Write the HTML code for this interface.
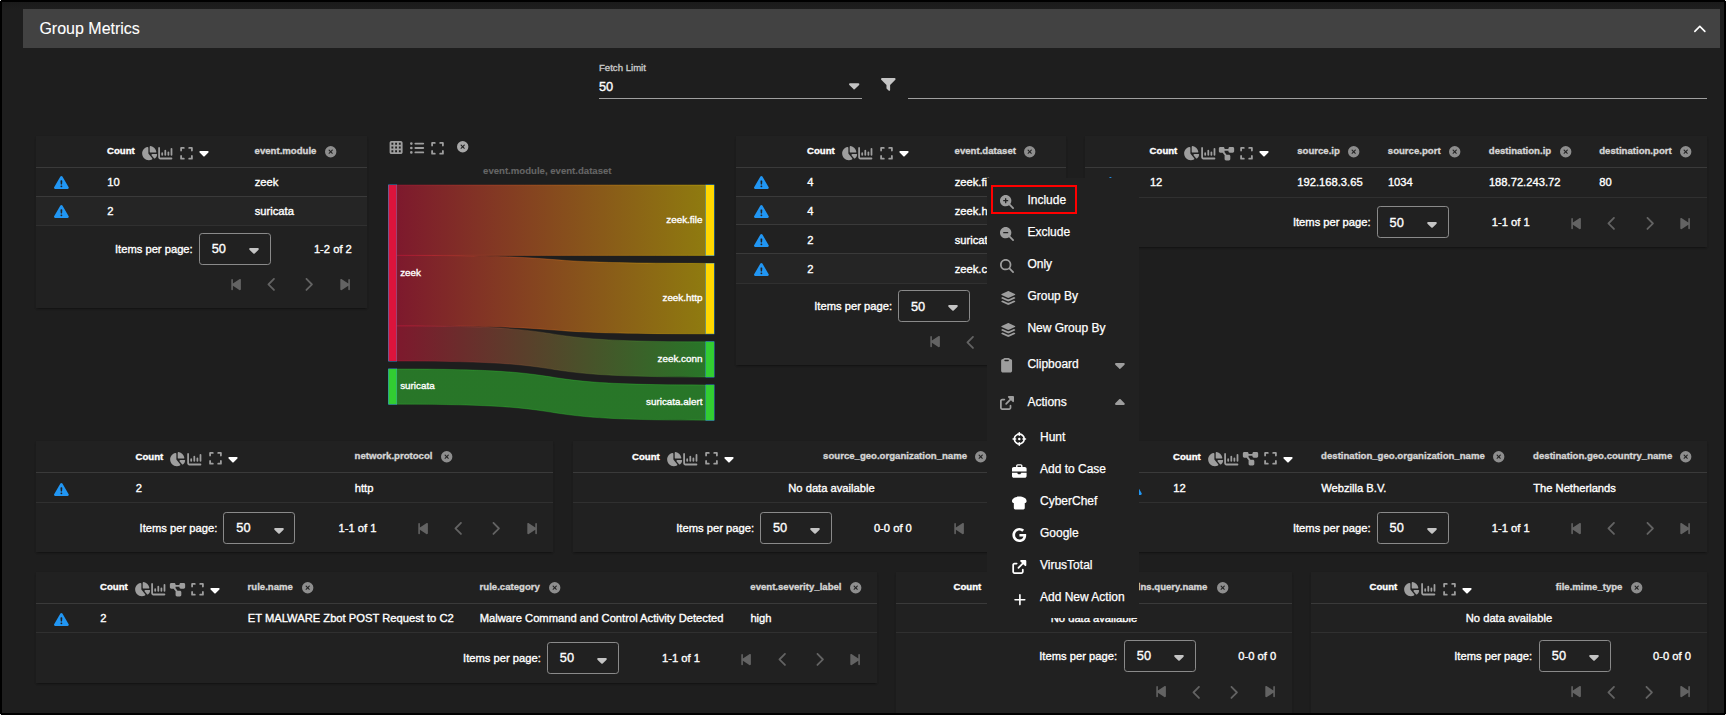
<!DOCTYPE html>
<html lang="en"><head><meta charset="utf-8"><title>Group Metrics</title>
<style>
*{box-sizing:border-box}
html,body{margin:0;padding:0}
body{width:1726px;height:715px;background:#000;overflow:hidden;position:relative;font-family:"Liberation Sans",sans-serif;color:#fff}
#pg{position:absolute;left:2px;top:2px;width:1722px;height:711px;background:linear-gradient(#1a1a1a,#1e1e1e 7px,#1e1e1e)}
.px{position:absolute;width:1px;height:1px;background:#ddd}
.bk{position:absolute;background:#000}
.i{position:absolute;display:block;overflow:visible}
.t{position:absolute;white-space:nowrap;-webkit-text-stroke:0.35px currentColor}
.card{position:absolute;background:#212121;box-shadow:0 2.4px .8px -1.6px rgba(0,0,0,.2),0 1.6px 1.6px 0 rgba(0,0,0,.14),0 .8px 3px 0 rgba(0,0,0,.07)}
.ln{position:absolute;height:1px;background:#3a3a3a}
.lf{background:#303030}
.st{position:absolute;background:#252525}
.bar{position:absolute;left:23px;top:9px;width:1697px;height:39px;background:#424242}
.title{font-size:16px;-webkit-text-stroke:0.1px currentColor}
.lbl{font-size:9.6px;color:#c8c8c8}
.sv{font-size:12.8px}
.ul{position:absolute;top:97.6px;height:1px;background:#a0a0a0}
.th{font-size:9.6px;font-weight:700;color:#d4d4d4}
.th.on{color:#fff}
.td{font-size:11.2px}
.ft{font-size:11.2px}
.sel{position:absolute;width:72px;height:32px;border:1px solid #8a8a8a;border-radius:3.2px}
.cl{font-size:9.85px}
.ct{font-size:9.6px;color:#666;font-weight:700;-webkit-text-stroke:0.1px currentColor}
.menu{position:absolute;left:987px;top:178px;width:152px;height:440.4px;background:#212121}
.hl{position:absolute;left:991px;top:185px;width:86px;height:29px;border:2px solid #f00}
.mi{font-size:12px;-webkit-text-stroke:0.25px currentColor}
</style></head>
<body>
<div id="pg"></div>
<div class="px" style="left:0;top:0"></div><div class="px" style="right:0;top:0"></div><div class="px" style="left:0;bottom:0"></div><div class="px" style="right:0;bottom:0"></div>
<div class="bar"></div>
<div class="t title" style="left:39.40px;top:18.60px;line-height:20px;">Group Metrics</div>
<svg class="i" style="left:1694.30px;top:25.20px;width:11.70px;height:7.60px;fill:#fff;" viewBox="-0.08 96.03 448.15 256.05" preserveAspectRatio="xMidYMid meet"><path d="M201.4 105.4c12.5-12.5 32.8-12.5 45.3 0l192 192c12.5 12.5 12.5 32.8 0 45.3s-32.8 12.5-45.3 0L224 173.3 54.6 342.6c-12.5 12.5-32.8 12.5-45.3 0s-12.5-32.8 0-45.3l192-192z"/></svg>
<div class="t lbl" style="left:599.00px;top:60.00px;line-height:16px;">Fetch Limit</div>
<div class="t sv" style="left:599.00px;top:78.90px;line-height:16px;">50</div>
<div class="ul" style="left:599px;width:263px"></div>
<svg class="i" style="left:849.00px;top:82.50px;width:10.40px;height:6.60px;fill:#c4c4c4;" viewBox="0.45 192 320.03 191.95" preserveAspectRatio="xMidYMid meet"><path d="M140.3 376.8c12.6 10.2 31.1 9.5 42.8-2.2l128-128c9.2-9.2 11.9-22.9 6.9-34.9S301.4 192 288.5 192h-256c-12.9 0-24.6 7.8-29.6 19.8s-2.2 25.7 7 34.8l128 128z"/></svg>
<svg class="i" style="left:880.60px;top:78.20px;width:14.60px;height:13.00px;fill:#c4c4c4;" viewBox="-0.05 64 512.03 447.98" preserveAspectRatio="xMidYMid meet"><path d="M32 64C19.1 64 7.4 71.8 2.4 83.8s-2.2 25.7 7 34.8L192 301.3V416c0 8.5 3.4 16.6 9.4 22.6l64 64c9.2 9.2 22.9 11.9 34.9 6.9S320 492.9 320 480V301.3l182.6-182.6c9.2-9.2 11.9-22.9 6.9-34.9S492.9 64 480 64z"/></svg>
<div class="ul" style="left:908px;width:799px"></div>
<div class="card" style="left:36px;top:136.3px;width:331px;height:172px"></div><div class="t th on" style="left:107.00px;top:142.90px;line-height:16px;">Count</div><svg class="i" style="left:141.60px;top:146.00px;width:15.30px;height:14.20px;fill:#9e9e9e;" viewBox="32.4 1.86 539.5 510.14" preserveAspectRatio="xMidYMid meet"><path d="M512.4 240h-176c-17.7 0-32-14.3-32-32V32c0-17.7 14.4-32.2 31.9-29.9 107 14.2 191.8 99 206 206 2.3 17.5-12.2 31.9-29.9 31.9M222.6 37.2c18.1-3.8 33.8 11 33.8 29.5V264c0 5.6 2 11 5.5 15.3L394 438.7c11.7 14.1 9.2 35.4-6.9 44.1C353 501.4 313.9 512 272.4 512c-132.5 0-240-107.5-240-240 0-115.5 81.5-211.9 190.2-234.8M477.8 288h64c18.5 0 33.3 15.7 29.5 33.8-10.2 48.4-35 91.4-69.6 124.2-12.3 11.7-31.6 9.2-42.4-3.9l-84.4-101.7c-17.3-20.9-2.4-52.4 24.6-52.4h78.2z"/></svg><svg class="i" style="left:158.40px;top:147.00px;width:14.60px;height:12.40px;fill:#9e9e9e;" viewBox="0 32 512 448" preserveAspectRatio="xMidYMid meet"><path d="M32 32c17.7 0 32 14.3 32 32v336c0 8.8 7.2 16 16 16h400c17.7 0 32 14.3 32 32s-14.3 32-32 32H80c-44.2 0-80-35.8-80-80V64c0-17.7 14.3-32 32-32m112 192c17.7 0 32 14.3 32 32v64c0 17.7-14.3 32-32 32s-32-14.3-32-32v-64c0-17.7 14.3-32 32-32m144-64v160c0 17.7-14.3 32-32 32s-32-14.3-32-32V160c0-17.7 14.3-32 32-32s32 14.3 32 32m80 32c17.7 0 32 14.3 32 32v96c0 17.7-14.3 32-32 32s-32-14.3-32-32v-96c0-17.7 14.3-32 32-32m144-96v224c0 17.7-14.3 32-32 32s-32-14.3-32-32V96c0-17.7 14.3-32 32-32s32 14.3 32 32"/></svg><svg class="i" style="left:180.20px;top:146.60px;width:13.00px;height:12.60px;fill:#9e9e9e;" viewBox="0 32 448 448" preserveAspectRatio="xMidYMid meet"><path d="M32 32C14.3 32 0 46.3 0 64v96c0 17.7 14.3 32 32 32s32-14.3 32-32V96h64c17.7 0 32-14.3 32-32s-14.3-32-32-32zm32 320c0-17.7-14.3-32-32-32S0 334.3 0 352v96c0 17.7 14.3 32 32 32h96c17.7 0 32-14.3 32-32s-14.3-32-32-32H64zM320 32c-17.7 0-32 14.3-32 32s14.3 32 32 32h64v64c0 17.7 14.3 32 32 32s32-14.3 32-32V64c0-17.7-14.3-32-32-32zm128 320c0-17.7-14.3-32-32-32s-32 14.3-32 32v64h-64c-17.7 0-32 14.3-32 32s14.3 32 32 32h96c17.7 0 32-14.3 32-32z"/></svg><svg class="i" style="left:199.40px;top:151.30px;width:10.00px;height:5.60px;fill:#fff;" viewBox="0.45 192 320.03 191.95" preserveAspectRatio="xMidYMid meet"><path d="M140.3 376.8c12.6 10.2 31.1 9.5 42.8-2.2l128-128c9.2-9.2 11.9-22.9 6.9-34.9S301.4 192 288.5 192h-256c-12.9 0-24.6 7.8-29.6 19.8s-2.2 25.7 7 34.8l128 128z"/></svg><div class="t th" style="left:254.60px;top:142.50px;line-height:16px;">event.module</div><div class="ln" style="left:36px;top:166.80px;width:331px"></div><svg class="i" style="left:53.85px;top:176.20px;width:14.80px;height:12.90px;fill:#2196f3;" viewBox="-0.02 0 512.04 480" preserveAspectRatio="none"><path d="M256 0c14.7 0 28.2 8.1 35.2 21l216 400c6.7 12.4 6.4 27.4-.8 39.5S486.1 480 472 480H40c-14.1 0-27.2-7.4-34.4-19.5s-7.5-27.1-.8-39.5l216-400c7-12.9 20.5-21 35.2-21m0 352a32 32 0 1 0 0 64 32 32 0 1 0 0-64m0-192c-18.2 0-32.7 15.5-31.4 33.7l7.4 104c.9 12.5 11.4 22.3 23.9 22.3 12.6 0 23-9.7 23.9-22.3l7.4-104c1.3-18.2-13.1-33.7-31.4-33.7z"/></svg><div class="t td" style="left:107.30px;top:174.10px;line-height:16px;">10</div><div class="t td" style="left:254.70px;top:174.10px;line-height:16px;">zeek</div><div class="ln" style="left:36px;top:195.60px;width:331px"></div><div class="st" style="left:36px;top:196.60px;width:331px;height:28.80px"></div><svg class="i" style="left:53.85px;top:205.00px;width:14.80px;height:12.90px;fill:#2196f3;" viewBox="-0.02 0 512.04 480" preserveAspectRatio="none"><path d="M256 0c14.7 0 28.2 8.1 35.2 21l216 400c6.7 12.4 6.4 27.4-.8 39.5S486.1 480 472 480H40c-14.1 0-27.2-7.4-34.4-19.5s-7.5-27.1-.8-39.5l216-400c7-12.9 20.5-21 35.2-21m0 352a32 32 0 1 0 0 64 32 32 0 1 0 0-64m0-192c-18.2 0-32.7 15.5-31.4 33.7l7.4 104c.9 12.5 11.4 22.3 23.9 22.3 12.6 0 23-9.7 23.9-22.3l7.4-104c1.3-18.2-13.1-33.7-31.4-33.7z"/></svg><div class="t td" style="left:107.30px;top:202.90px;line-height:16px;">2</div><div class="t td" style="left:254.70px;top:202.90px;line-height:16px;">suricata</div><div class="ln lf" style="left:36px;top:225.40px;width:331px"></div><div class="t ft" style="right:1533.30px;top:241.30px;line-height:16px;">Items per page:</div><div class="sel" style="left:199px;top:233px"></div><div class="t sv" style="left:211.70px;top:240.80px;line-height:16px;">50</div><svg class="i" style="left:249.10px;top:247.80px;width:10.00px;height:5.80px;fill:#c4c4c4;" viewBox="0.45 192 320.03 191.95" preserveAspectRatio="xMidYMid meet"><path d="M140.3 376.8c12.6 10.2 31.1 9.5 42.8-2.2l128-128c9.2-9.2 11.9-22.9 6.9-34.9S301.4 192 288.5 192h-256c-12.9 0-24.6 7.8-29.6 19.8s-2.2 25.7 7 34.8l128 128z"/></svg><div class="t ft" style="left:313.90px;top:241.30px;line-height:16px;">1-2 of 2</div><svg class="i" style="left:230.60px;top:278.70px;width:10.20px;height:11.20px;fill:#636363;" viewBox="0 32.0 384 448.1" preserveAspectRatio="xMidYMid meet"><path d="M363 36.8c-12.9-7-28.7-6.3-41 1.8L64 208.1V64c0-17.7-14.3-32-32-32S0 46.3 0 64v384c0 17.7 14.3 32 32 32s32-14.3 32-32V303.9l258 169.6c12.3 8.1 28 8.8 41 1.8s21-20.5 21-35.2v-368c0-14.7-8.1-28.2-21-35.2z"/></svg><svg class="i" style="left:267.10px;top:277.90px;width:8.40px;height:12.90px;fill:#636363;" viewBox="0.02 31.92 256.05 448.15" preserveAspectRatio="xMidYMid meet"><path d="M9.4 233.4c-12.5 12.5-12.5 32.8 0 45.3l192 192c12.5 12.5 32.8 12.5 45.3 0s12.5-32.8 0-45.3L77.3 256 246.6 86.6c12.5-12.5 12.5-32.8 0-45.3s-32.8-12.5-45.3 0l-192 192z"/></svg><svg class="i" style="left:305.30px;top:277.90px;width:8.40px;height:12.90px;fill:#636363;" viewBox="64.43 31.92 256.05 448.15" preserveAspectRatio="xMidYMid meet"><path d="M311.1 233.4c12.5 12.5 12.5 32.8 0 45.3l-192 192c-12.5 12.5-32.8 12.5-45.3 0s-12.5-32.8 0-45.3L243.2 256 73.9 86.6c-12.5-12.5-12.5-32.8 0-45.3s32.8-12.5 45.3 0l192 192z"/></svg><svg class="i" style="left:339.70px;top:278.70px;width:10.20px;height:11.20px;fill:#636363;" viewBox="0 32.0 384 448.1" preserveAspectRatio="xMidYMid meet"><path d="M21 36.8c12.9-7 28.7-6.3 41 1.8l258 169.5V64c0-17.7 14.3-32 32-32s32 14.3 32 32v384c0 17.7-14.3 32-32 32s-32-14.3-32-32V303.9L62 473.5c-12.3 8.1-28 8.8-41 1.8S0 454.7 0 440V72c0-14.7 8.1-28.2 21-35.2"/></svg>
<div class="card" style="left:736px;top:136.3px;width:330px;height:228.5px"></div><div class="t th on" style="left:807.00px;top:142.90px;line-height:16px;">Count</div><svg class="i" style="left:841.60px;top:146.00px;width:15.30px;height:14.20px;fill:#9e9e9e;" viewBox="32.4 1.86 539.5 510.14" preserveAspectRatio="xMidYMid meet"><path d="M512.4 240h-176c-17.7 0-32-14.3-32-32V32c0-17.7 14.4-32.2 31.9-29.9 107 14.2 191.8 99 206 206 2.3 17.5-12.2 31.9-29.9 31.9M222.6 37.2c18.1-3.8 33.8 11 33.8 29.5V264c0 5.6 2 11 5.5 15.3L394 438.7c11.7 14.1 9.2 35.4-6.9 44.1C353 501.4 313.9 512 272.4 512c-132.5 0-240-107.5-240-240 0-115.5 81.5-211.9 190.2-234.8M477.8 288h64c18.5 0 33.3 15.7 29.5 33.8-10.2 48.4-35 91.4-69.6 124.2-12.3 11.7-31.6 9.2-42.4-3.9l-84.4-101.7c-17.3-20.9-2.4-52.4 24.6-52.4h78.2z"/></svg><svg class="i" style="left:858.40px;top:147.00px;width:14.60px;height:12.40px;fill:#9e9e9e;" viewBox="0 32 512 448" preserveAspectRatio="xMidYMid meet"><path d="M32 32c17.7 0 32 14.3 32 32v336c0 8.8 7.2 16 16 16h400c17.7 0 32 14.3 32 32s-14.3 32-32 32H80c-44.2 0-80-35.8-80-80V64c0-17.7 14.3-32 32-32m112 192c17.7 0 32 14.3 32 32v64c0 17.7-14.3 32-32 32s-32-14.3-32-32v-64c0-17.7 14.3-32 32-32m144-64v160c0 17.7-14.3 32-32 32s-32-14.3-32-32V160c0-17.7 14.3-32 32-32s32 14.3 32 32m80 32c17.7 0 32 14.3 32 32v96c0 17.7-14.3 32-32 32s-32-14.3-32-32v-96c0-17.7 14.3-32 32-32m144-96v224c0 17.7-14.3 32-32 32s-32-14.3-32-32V96c0-17.7 14.3-32 32-32s32 14.3 32 32"/></svg><svg class="i" style="left:880.20px;top:146.60px;width:13.00px;height:12.60px;fill:#9e9e9e;" viewBox="0 32 448 448" preserveAspectRatio="xMidYMid meet"><path d="M32 32C14.3 32 0 46.3 0 64v96c0 17.7 14.3 32 32 32s32-14.3 32-32V96h64c17.7 0 32-14.3 32-32s-14.3-32-32-32zm32 320c0-17.7-14.3-32-32-32S0 334.3 0 352v96c0 17.7 14.3 32 32 32h96c17.7 0 32-14.3 32-32s-14.3-32-32-32H64zM320 32c-17.7 0-32 14.3-32 32s14.3 32 32 32h64v64c0 17.7 14.3 32 32 32s32-14.3 32-32V64c0-17.7-14.3-32-32-32zm128 320c0-17.7-14.3-32-32-32s-32 14.3-32 32v64h-64c-17.7 0-32 14.3-32 32s14.3 32 32 32h96c17.7 0 32-14.3 32-32z"/></svg><svg class="i" style="left:899.40px;top:151.30px;width:10.00px;height:5.60px;fill:#fff;" viewBox="0.45 192 320.03 191.95" preserveAspectRatio="xMidYMid meet"><path d="M140.3 376.8c12.6 10.2 31.1 9.5 42.8-2.2l128-128c9.2-9.2 11.9-22.9 6.9-34.9S301.4 192 288.5 192h-256c-12.9 0-24.6 7.8-29.6 19.8s-2.2 25.7 7 34.8l128 128z"/></svg><div class="t th" style="left:954.60px;top:142.50px;line-height:16px;">event.dataset</div><div class="ln" style="left:736px;top:166.80px;width:330px"></div><svg class="i" style="left:753.85px;top:176.20px;width:14.80px;height:12.90px;fill:#2196f3;" viewBox="-0.02 0 512.04 480" preserveAspectRatio="none"><path d="M256 0c14.7 0 28.2 8.1 35.2 21l216 400c6.7 12.4 6.4 27.4-.8 39.5S486.1 480 472 480H40c-14.1 0-27.2-7.4-34.4-19.5s-7.5-27.1-.8-39.5l216-400c7-12.9 20.5-21 35.2-21m0 352a32 32 0 1 0 0 64 32 32 0 1 0 0-64m0-192c-18.2 0-32.7 15.5-31.4 33.7l7.4 104c.9 12.5 11.4 22.3 23.9 22.3 12.6 0 23-9.7 23.9-22.3l7.4-104c1.3-18.2-13.1-33.7-31.4-33.7z"/></svg><div class="t td" style="left:807.30px;top:174.10px;line-height:16px;">4</div><div class="t td" style="left:954.70px;top:174.10px;line-height:16px;">zeek.file</div><div class="ln" style="left:736px;top:195.60px;width:330px"></div><div class="st" style="left:736px;top:196.60px;width:330px;height:27.80px"></div><svg class="i" style="left:753.85px;top:205.00px;width:14.80px;height:12.90px;fill:#2196f3;" viewBox="-0.02 0 512.04 480" preserveAspectRatio="none"><path d="M256 0c14.7 0 28.2 8.1 35.2 21l216 400c6.7 12.4 6.4 27.4-.8 39.5S486.1 480 472 480H40c-14.1 0-27.2-7.4-34.4-19.5s-7.5-27.1-.8-39.5l216-400c7-12.9 20.5-21 35.2-21m0 352a32 32 0 1 0 0 64 32 32 0 1 0 0-64m0-192c-18.2 0-32.7 15.5-31.4 33.7l7.4 104c.9 12.5 11.4 22.3 23.9 22.3 12.6 0 23-9.7 23.9-22.3l7.4-104c1.3-18.2-13.1-33.7-31.4-33.7z"/></svg><div class="t td" style="left:807.30px;top:202.90px;line-height:16px;">4</div><div class="t td" style="left:954.70px;top:202.90px;line-height:16px;">zeek.http</div><div class="ln" style="left:736px;top:224.40px;width:330px"></div><svg class="i" style="left:753.85px;top:233.80px;width:14.80px;height:12.90px;fill:#2196f3;" viewBox="-0.02 0 512.04 480" preserveAspectRatio="none"><path d="M256 0c14.7 0 28.2 8.1 35.2 21l216 400c6.7 12.4 6.4 27.4-.8 39.5S486.1 480 472 480H40c-14.1 0-27.2-7.4-34.4-19.5s-7.5-27.1-.8-39.5l216-400c7-12.9 20.5-21 35.2-21m0 352a32 32 0 1 0 0 64 32 32 0 1 0 0-64m0-192c-18.2 0-32.7 15.5-31.4 33.7l7.4 104c.9 12.5 11.4 22.3 23.9 22.3 12.6 0 23-9.7 23.9-22.3l7.4-104c1.3-18.2-13.1-33.7-31.4-33.7z"/></svg><div class="t td" style="left:807.30px;top:231.70px;line-height:16px;">2</div><div class="t td" style="left:954.70px;top:231.70px;line-height:16px;">suricata.alert</div><div class="ln" style="left:736px;top:253.20px;width:330px"></div><div class="st" style="left:736px;top:254.20px;width:330px;height:28.80px"></div><svg class="i" style="left:753.85px;top:262.60px;width:14.80px;height:12.90px;fill:#2196f3;" viewBox="-0.02 0 512.04 480" preserveAspectRatio="none"><path d="M256 0c14.7 0 28.2 8.1 35.2 21l216 400c6.7 12.4 6.4 27.4-.8 39.5S486.1 480 472 480H40c-14.1 0-27.2-7.4-34.4-19.5s-7.5-27.1-.8-39.5l216-400c7-12.9 20.5-21 35.2-21m0 352a32 32 0 1 0 0 64 32 32 0 1 0 0-64m0-192c-18.2 0-32.7 15.5-31.4 33.7l7.4 104c.9 12.5 11.4 22.3 23.9 22.3 12.6 0 23-9.7 23.9-22.3l7.4-104c1.3-18.2-13.1-33.7-31.4-33.7z"/></svg><div class="t td" style="left:807.30px;top:260.50px;line-height:16px;">2</div><div class="t td" style="left:954.70px;top:260.50px;line-height:16px;">zeek.conn</div><div class="ln lf" style="left:736px;top:283.00px;width:330px"></div><div class="t ft" style="right:834.00px;top:297.90px;line-height:16px;">Items per page:</div><div class="sel" style="left:898px;top:290px"></div><div class="t sv" style="left:911.00px;top:298.70px;line-height:16px;">50</div><svg class="i" style="left:948.40px;top:305.40px;width:10.00px;height:5.80px;fill:#c4c4c4;" viewBox="0.45 192 320.03 191.95" preserveAspectRatio="xMidYMid meet"><path d="M140.3 376.8c12.6 10.2 31.1 9.5 42.8-2.2l128-128c9.2-9.2 11.9-22.9 6.9-34.9S301.4 192 288.5 192h-256c-12.9 0-24.6 7.8-29.6 19.8s-2.2 25.7 7 34.8l128 128z"/></svg><div class="t ft" style="left:1013.20px;top:297.90px;line-height:16px;">1-4 of 4</div><svg class="i" style="left:929.90px;top:336.30px;width:10.20px;height:11.20px;fill:#636363;" viewBox="0 32.0 384 448.1" preserveAspectRatio="xMidYMid meet"><path d="M363 36.8c-12.9-7-28.7-6.3-41 1.8L64 208.1V64c0-17.7-14.3-32-32-32S0 46.3 0 64v384c0 17.7 14.3 32 32 32s32-14.3 32-32V303.9l258 169.6c12.3 8.1 28 8.8 41 1.8s21-20.5 21-35.2v-368c0-14.7-8.1-28.2-21-35.2z"/></svg><svg class="i" style="left:966.40px;top:335.50px;width:8.40px;height:12.90px;fill:#636363;" viewBox="0.02 31.92 256.05 448.15" preserveAspectRatio="xMidYMid meet"><path d="M9.4 233.4c-12.5 12.5-12.5 32.8 0 45.3l192 192c12.5 12.5 32.8 12.5 45.3 0s12.5-32.8 0-45.3L77.3 256 246.6 86.6c12.5-12.5 12.5-32.8 0-45.3s-32.8-12.5-45.3 0l-192 192z"/></svg><svg class="i" style="left:1004.60px;top:335.50px;width:8.40px;height:12.90px;fill:#636363;" viewBox="64.43 31.92 256.05 448.15" preserveAspectRatio="xMidYMid meet"><path d="M311.1 233.4c12.5 12.5 12.5 32.8 0 45.3l-192 192c-12.5 12.5-32.8 12.5-45.3 0s-12.5-32.8 0-45.3L243.2 256 73.9 86.6c-12.5-12.5-12.5-32.8 0-45.3s32.8-12.5 45.3 0l192 192z"/></svg><svg class="i" style="left:1039.00px;top:336.30px;width:10.20px;height:11.20px;fill:#636363;" viewBox="0 32.0 384 448.1" preserveAspectRatio="xMidYMid meet"><path d="M21 36.8c12.9-7 28.7-6.3 41 1.8l258 169.5V64c0-17.7 14.3-32 32-32s32 14.3 32 32v384c0 17.7-14.3 32-32 32s-32-14.3-32-32V303.9L62 473.5c-12.3 8.1-28 8.8-41 1.8S0 454.7 0 440V72c0-14.7 8.1-28.2 21-35.2"/></svg>
<div class="card" style="left:1085px;top:136.3px;width:622px;height:111px"></div><div class="t th on" style="left:1149.60px;top:142.90px;line-height:16px;">Count</div><svg class="i" style="left:1184.20px;top:146.00px;width:15.30px;height:14.20px;fill:#9e9e9e;" viewBox="32.4 1.86 539.5 510.14" preserveAspectRatio="xMidYMid meet"><path d="M512.4 240h-176c-17.7 0-32-14.3-32-32V32c0-17.7 14.4-32.2 31.9-29.9 107 14.2 191.8 99 206 206 2.3 17.5-12.2 31.9-29.9 31.9M222.6 37.2c18.1-3.8 33.8 11 33.8 29.5V264c0 5.6 2 11 5.5 15.3L394 438.7c11.7 14.1 9.2 35.4-6.9 44.1C353 501.4 313.9 512 272.4 512c-132.5 0-240-107.5-240-240 0-115.5 81.5-211.9 190.2-234.8M477.8 288h64c18.5 0 33.3 15.7 29.5 33.8-10.2 48.4-35 91.4-69.6 124.2-12.3 11.7-31.6 9.2-42.4-3.9l-84.4-101.7c-17.3-20.9-2.4-52.4 24.6-52.4h78.2z"/></svg><svg class="i" style="left:1201.00px;top:147.00px;width:14.60px;height:12.40px;fill:#9e9e9e;" viewBox="0 32 512 448" preserveAspectRatio="xMidYMid meet"><path d="M32 32c17.7 0 32 14.3 32 32v336c0 8.8 7.2 16 16 16h400c17.7 0 32 14.3 32 32s-14.3 32-32 32H80c-44.2 0-80-35.8-80-80V64c0-17.7 14.3-32 32-32m112 192c17.7 0 32 14.3 32 32v64c0 17.7-14.3 32-32 32s-32-14.3-32-32v-64c0-17.7 14.3-32 32-32m144-64v160c0 17.7-14.3 32-32 32s-32-14.3-32-32V160c0-17.7 14.3-32 32-32s32 14.3 32 32m80 32c17.7 0 32 14.3 32 32v96c0 17.7-14.3 32-32 32s-32-14.3-32-32v-96c0-17.7 14.3-32 32-32m144-96v224c0 17.7-14.3 32-32 32s-32-14.3-32-32V96c0-17.7 14.3-32 32-32s32 14.3 32 32"/></svg><svg class="i" style="left:1218.20px;top:146.50px;width:17.00px;height:13.40px;fill:#9e9e9e;" viewBox="0 32 512 448" preserveAspectRatio="xMidYMid meet"><path d="M0 80c0-26.5 21.5-48 48-48h96c26.5 0 48 21.5 48 48v16h128V80c0-26.5 21.5-48 48-48h96c26.5 0 48 21.5 48 48v96c0 26.5-21.5 48-48 48h-96c-26.5 0-48-21.5-48-48v-16H192v16c0 7.3-1.7 14.3-4.6 20.5L256 288h80c26.5 0 48 21.5 48 48v96c0 26.5-21.5 48-48 48h-96c-26.5 0-48-21.5-48-48v-96c0-7.3 1.7-14.3 4.6-20.5L128 224H48c-26.5 0-48-21.5-48-48z"/></svg><svg class="i" style="left:1240.20px;top:146.60px;width:13.00px;height:12.60px;fill:#9e9e9e;" viewBox="0 32 448 448" preserveAspectRatio="xMidYMid meet"><path d="M32 32C14.3 32 0 46.3 0 64v96c0 17.7 14.3 32 32 32s32-14.3 32-32V96h64c17.7 0 32-14.3 32-32s-14.3-32-32-32zm32 320c0-17.7-14.3-32-32-32S0 334.3 0 352v96c0 17.7 14.3 32 32 32h96c17.7 0 32-14.3 32-32s-14.3-32-32-32H64zM320 32c-17.7 0-32 14.3-32 32s14.3 32 32 32h64v64c0 17.7 14.3 32 32 32s32-14.3 32-32V64c0-17.7-14.3-32-32-32zm128 320c0-17.7-14.3-32-32-32s-32 14.3-32 32v64h-64c-17.7 0-32 14.3-32 32s14.3 32 32 32h96c17.7 0 32-14.3 32-32z"/></svg><svg class="i" style="left:1259.40px;top:151.30px;width:10.00px;height:5.60px;fill:#fff;" viewBox="0.45 192 320.03 191.95" preserveAspectRatio="xMidYMid meet"><path d="M140.3 376.8c12.6 10.2 31.1 9.5 42.8-2.2l128-128c9.2-9.2 11.9-22.9 6.9-34.9S301.4 192 288.5 192h-256c-12.9 0-24.6 7.8-29.6 19.8s-2.2 25.7 7 34.8l128 128z"/></svg><div class="t th" style="left:1297.20px;top:142.50px;line-height:16px;">source.ip</div><div class="t th" style="left:1387.80px;top:142.50px;line-height:16px;">source.port</div><div class="t th" style="left:1488.80px;top:142.50px;line-height:16px;">destination.ip</div><div class="t th" style="left:1599.20px;top:142.50px;line-height:16px;">destination.port</div><div class="ln" style="left:1085px;top:166.80px;width:622px"></div><svg class="i" style="left:1102.85px;top:177.20px;width:14.80px;height:12.90px;fill:#2196f3;" viewBox="-0.02 0 512.04 480" preserveAspectRatio="none"><path d="M256 0c14.7 0 28.2 8.1 35.2 21l216 400c6.7 12.4 6.4 27.4-.8 39.5S486.1 480 472 480H40c-14.1 0-27.2-7.4-34.4-19.5s-7.5-27.1-.8-39.5l216-400c7-12.9 20.5-21 35.2-21m0 352a32 32 0 1 0 0 64 32 32 0 1 0 0-64m0-192c-18.2 0-32.7 15.5-31.4 33.7l7.4 104c.9 12.5 11.4 22.3 23.9 22.3 12.6 0 23-9.7 23.9-22.3l7.4-104c1.3-18.2-13.1-33.7-31.4-33.7z"/></svg><div class="t td" style="left:1149.90px;top:174.10px;line-height:16px;">12</div><div class="t td" style="left:1297.30px;top:174.10px;line-height:16px;">192.168.3.65</div><div class="t td" style="left:1387.90px;top:174.10px;line-height:16px;">1034</div><div class="t td" style="left:1488.90px;top:174.10px;line-height:16px;">188.72.243.72</div><div class="t td" style="left:1599.30px;top:174.10px;line-height:16px;">80</div><div class="ln lf" style="left:1085px;top:196.60px;width:622px"></div><div class="t ft" style="right:355.40px;top:214.00px;line-height:16px;">Items per page:</div><div class="sel" style="left:1377px;top:206px"></div><div class="t sv" style="left:1389.60px;top:214.50px;line-height:16px;">50</div><svg class="i" style="left:1427.00px;top:222.40px;width:10.00px;height:5.80px;fill:#c4c4c4;" viewBox="0.45 192 320.03 191.95" preserveAspectRatio="xMidYMid meet"><path d="M140.3 376.8c12.6 10.2 31.1 9.5 42.8-2.2l128-128c9.2-9.2 11.9-22.9 6.9-34.9S301.4 192 288.5 192h-256c-12.9 0-24.6 7.8-29.6 19.8s-2.2 25.7 7 34.8l128 128z"/></svg><div class="t ft" style="left:1491.80px;top:214.00px;line-height:16px;">1-1 of 1</div><svg class="i" style="left:1570.90px;top:217.80px;width:10.20px;height:11.20px;fill:#636363;" viewBox="0 32.0 384 448.1" preserveAspectRatio="xMidYMid meet"><path d="M363 36.8c-12.9-7-28.7-6.3-41 1.8L64 208.1V64c0-17.7-14.3-32-32-32S0 46.3 0 64v384c0 17.7 14.3 32 32 32s32-14.3 32-32V303.9l258 169.6c12.3 8.1 28 8.8 41 1.8s21-20.5 21-35.2v-368c0-14.7-8.1-28.2-21-35.2z"/></svg><svg class="i" style="left:1607.40px;top:217.00px;width:8.40px;height:12.90px;fill:#636363;" viewBox="0.02 31.92 256.05 448.15" preserveAspectRatio="xMidYMid meet"><path d="M9.4 233.4c-12.5 12.5-12.5 32.8 0 45.3l192 192c12.5 12.5 32.8 12.5 45.3 0s12.5-32.8 0-45.3L77.3 256 246.6 86.6c12.5-12.5 12.5-32.8 0-45.3s-32.8-12.5-45.3 0l-192 192z"/></svg><svg class="i" style="left:1645.60px;top:217.00px;width:8.40px;height:12.90px;fill:#636363;" viewBox="64.43 31.92 256.05 448.15" preserveAspectRatio="xMidYMid meet"><path d="M311.1 233.4c12.5 12.5 12.5 32.8 0 45.3l-192 192c-12.5 12.5-32.8 12.5-45.3 0s-12.5-32.8 0-45.3L243.2 256 73.9 86.6c-12.5-12.5-12.5-32.8 0-45.3s32.8-12.5 45.3 0l192 192z"/></svg><svg class="i" style="left:1680.00px;top:217.80px;width:10.20px;height:11.20px;fill:#636363;" viewBox="0 32.0 384 448.1" preserveAspectRatio="xMidYMid meet"><path d="M21 36.8c12.9-7 28.7-6.3 41 1.8l258 169.5V64c0-17.7 14.3-32 32-32s32 14.3 32 32v384c0 17.7-14.3 32-32 32s-32-14.3-32-32V303.9L62 473.5c-12.3 8.1-28 8.8-41 1.8S0 454.7 0 440V72c0-14.7 8.1-28.2 21-35.2"/></svg>
<div class="card" style="left:36px;top:441.3px;width:517px;height:111px"></div><div class="t th on" style="left:135.50px;top:448.60px;line-height:16px;">Count</div><svg class="i" style="left:170.10px;top:451.70px;width:15.30px;height:14.20px;fill:#9e9e9e;" viewBox="32.4 1.86 539.5 510.14" preserveAspectRatio="xMidYMid meet"><path d="M512.4 240h-176c-17.7 0-32-14.3-32-32V32c0-17.7 14.4-32.2 31.9-29.9 107 14.2 191.8 99 206 206 2.3 17.5-12.2 31.9-29.9 31.9M222.6 37.2c18.1-3.8 33.8 11 33.8 29.5V264c0 5.6 2 11 5.5 15.3L394 438.7c11.7 14.1 9.2 35.4-6.9 44.1C353 501.4 313.9 512 272.4 512c-132.5 0-240-107.5-240-240 0-115.5 81.5-211.9 190.2-234.8M477.8 288h64c18.5 0 33.3 15.7 29.5 33.8-10.2 48.4-35 91.4-69.6 124.2-12.3 11.7-31.6 9.2-42.4-3.9l-84.4-101.7c-17.3-20.9-2.4-52.4 24.6-52.4h78.2z"/></svg><svg class="i" style="left:186.90px;top:452.70px;width:14.60px;height:12.40px;fill:#9e9e9e;" viewBox="0 32 512 448" preserveAspectRatio="xMidYMid meet"><path d="M32 32c17.7 0 32 14.3 32 32v336c0 8.8 7.2 16 16 16h400c17.7 0 32 14.3 32 32s-14.3 32-32 32H80c-44.2 0-80-35.8-80-80V64c0-17.7 14.3-32 32-32m112 192c17.7 0 32 14.3 32 32v64c0 17.7-14.3 32-32 32s-32-14.3-32-32v-64c0-17.7 14.3-32 32-32m144-64v160c0 17.7-14.3 32-32 32s-32-14.3-32-32V160c0-17.7 14.3-32 32-32s32 14.3 32 32m80 32c17.7 0 32 14.3 32 32v96c0 17.7-14.3 32-32 32s-32-14.3-32-32v-96c0-17.7 14.3-32 32-32m144-96v224c0 17.7-14.3 32-32 32s-32-14.3-32-32V96c0-17.7 14.3-32 32-32s32 14.3 32 32"/></svg><svg class="i" style="left:208.70px;top:452.30px;width:13.00px;height:12.60px;fill:#9e9e9e;" viewBox="0 32 448 448" preserveAspectRatio="xMidYMid meet"><path d="M32 32C14.3 32 0 46.3 0 64v96c0 17.7 14.3 32 32 32s32-14.3 32-32V96h64c17.7 0 32-14.3 32-32s-14.3-32-32-32zm32 320c0-17.7-14.3-32-32-32S0 334.3 0 352v96c0 17.7 14.3 32 32 32h96c17.7 0 32-14.3 32-32s-14.3-32-32-32H64zM320 32c-17.7 0-32 14.3-32 32s14.3 32 32 32h64v64c0 17.7 14.3 32 32 32s32-14.3 32-32V64c0-17.7-14.3-32-32-32zm128 320c0-17.7-14.3-32-32-32s-32 14.3-32 32v64h-64c-17.7 0-32 14.3-32 32s14.3 32 32 32h96c17.7 0 32-14.3 32-32z"/></svg><svg class="i" style="left:227.90px;top:457.00px;width:10.00px;height:5.60px;fill:#fff;" viewBox="0.45 192 320.03 191.95" preserveAspectRatio="xMidYMid meet"><path d="M140.3 376.8c12.6 10.2 31.1 9.5 42.8-2.2l128-128c9.2-9.2 11.9-22.9 6.9-34.9S301.4 192 288.5 192h-256c-12.9 0-24.6 7.8-29.6 19.8s-2.2 25.7 7 34.8l128 128z"/></svg><div class="t th" style="left:354.60px;top:448.20px;line-height:16px;">network.protocol</div><div class="ln" style="left:36px;top:471.80px;width:517px"></div><svg class="i" style="left:53.85px;top:482.60px;width:14.80px;height:12.90px;fill:#2196f3;" viewBox="-0.02 0 512.04 480" preserveAspectRatio="none"><path d="M256 0c14.7 0 28.2 8.1 35.2 21l216 400c6.7 12.4 6.4 27.4-.8 39.5S486.1 480 472 480H40c-14.1 0-27.2-7.4-34.4-19.5s-7.5-27.1-.8-39.5l216-400c7-12.9 20.5-21 35.2-21m0 352a32 32 0 1 0 0 64 32 32 0 1 0 0-64m0-192c-18.2 0-32.7 15.5-31.4 33.7l7.4 104c.9 12.5 11.4 22.3 23.9 22.3 12.6 0 23-9.7 23.9-22.3l7.4-104c1.3-18.2-13.1-33.7-31.4-33.7z"/></svg><div class="t td" style="left:135.80px;top:480.10px;line-height:16px;">2</div><div class="t td" style="left:354.70px;top:480.10px;line-height:16px;">http</div><div class="ln lf" style="left:36px;top:501.60px;width:517px"></div><div class="t ft" style="right:1508.70px;top:520.00px;line-height:16px;">Items per page:</div><div class="sel" style="left:223px;top:512px"></div><div class="t sv" style="left:236.30px;top:519.90px;line-height:16px;">50</div><svg class="i" style="left:273.70px;top:528.40px;width:10.00px;height:5.80px;fill:#c4c4c4;" viewBox="0.45 192 320.03 191.95" preserveAspectRatio="xMidYMid meet"><path d="M140.3 376.8c12.6 10.2 31.1 9.5 42.8-2.2l128-128c9.2-9.2 11.9-22.9 6.9-34.9S301.4 192 288.5 192h-256c-12.9 0-24.6 7.8-29.6 19.8s-2.2 25.7 7 34.8l128 128z"/></svg><div class="t ft" style="left:338.50px;top:520.00px;line-height:16px;">1-1 of 1</div><svg class="i" style="left:417.60px;top:522.80px;width:10.20px;height:11.20px;fill:#636363;" viewBox="0 32.0 384 448.1" preserveAspectRatio="xMidYMid meet"><path d="M363 36.8c-12.9-7-28.7-6.3-41 1.8L64 208.1V64c0-17.7-14.3-32-32-32S0 46.3 0 64v384c0 17.7 14.3 32 32 32s32-14.3 32-32V303.9l258 169.6c12.3 8.1 28 8.8 41 1.8s21-20.5 21-35.2v-368c0-14.7-8.1-28.2-21-35.2z"/></svg><svg class="i" style="left:454.10px;top:522.00px;width:8.40px;height:12.90px;fill:#636363;" viewBox="0.02 31.92 256.05 448.15" preserveAspectRatio="xMidYMid meet"><path d="M9.4 233.4c-12.5 12.5-12.5 32.8 0 45.3l192 192c12.5 12.5 32.8 12.5 45.3 0s12.5-32.8 0-45.3L77.3 256 246.6 86.6c12.5-12.5 12.5-32.8 0-45.3s-32.8-12.5-45.3 0l-192 192z"/></svg><svg class="i" style="left:492.30px;top:522.00px;width:8.40px;height:12.90px;fill:#636363;" viewBox="64.43 31.92 256.05 448.15" preserveAspectRatio="xMidYMid meet"><path d="M311.1 233.4c12.5 12.5 12.5 32.8 0 45.3l-192 192c-12.5 12.5-32.8 12.5-45.3 0s-12.5-32.8 0-45.3L243.2 256 73.9 86.6c-12.5-12.5-12.5-32.8 0-45.3s32.8-12.5 45.3 0l192 192z"/></svg><svg class="i" style="left:526.70px;top:522.80px;width:10.20px;height:11.20px;fill:#636363;" viewBox="0 32.0 384 448.1" preserveAspectRatio="xMidYMid meet"><path d="M21 36.8c12.9-7 28.7-6.3 41 1.8l258 169.5V64c0-17.7 14.3-32 32-32s32 14.3 32 32v384c0 17.7-14.3 32-32 32s-32-14.3-32-32V303.9L62 473.5c-12.3 8.1-28 8.8-41 1.8S0 454.7 0 440V72c0-14.7 8.1-28.2 21-35.2"/></svg>
<div class="card" style="left:573px;top:441.3px;width:517px;height:111px"></div><div class="t th on" style="left:632.00px;top:448.60px;line-height:16px;">Count</div><svg class="i" style="left:666.60px;top:451.70px;width:15.30px;height:14.20px;fill:#9e9e9e;" viewBox="32.4 1.86 539.5 510.14" preserveAspectRatio="xMidYMid meet"><path d="M512.4 240h-176c-17.7 0-32-14.3-32-32V32c0-17.7 14.4-32.2 31.9-29.9 107 14.2 191.8 99 206 206 2.3 17.5-12.2 31.9-29.9 31.9M222.6 37.2c18.1-3.8 33.8 11 33.8 29.5V264c0 5.6 2 11 5.5 15.3L394 438.7c11.7 14.1 9.2 35.4-6.9 44.1C353 501.4 313.9 512 272.4 512c-132.5 0-240-107.5-240-240 0-115.5 81.5-211.9 190.2-234.8M477.8 288h64c18.5 0 33.3 15.7 29.5 33.8-10.2 48.4-35 91.4-69.6 124.2-12.3 11.7-31.6 9.2-42.4-3.9l-84.4-101.7c-17.3-20.9-2.4-52.4 24.6-52.4h78.2z"/></svg><svg class="i" style="left:683.40px;top:452.70px;width:14.60px;height:12.40px;fill:#9e9e9e;" viewBox="0 32 512 448" preserveAspectRatio="xMidYMid meet"><path d="M32 32c17.7 0 32 14.3 32 32v336c0 8.8 7.2 16 16 16h400c17.7 0 32 14.3 32 32s-14.3 32-32 32H80c-44.2 0-80-35.8-80-80V64c0-17.7 14.3-32 32-32m112 192c17.7 0 32 14.3 32 32v64c0 17.7-14.3 32-32 32s-32-14.3-32-32v-64c0-17.7 14.3-32 32-32m144-64v160c0 17.7-14.3 32-32 32s-32-14.3-32-32V160c0-17.7 14.3-32 32-32s32 14.3 32 32m80 32c17.7 0 32 14.3 32 32v96c0 17.7-14.3 32-32 32s-32-14.3-32-32v-96c0-17.7 14.3-32 32-32m144-96v224c0 17.7-14.3 32-32 32s-32-14.3-32-32V96c0-17.7 14.3-32 32-32s32 14.3 32 32"/></svg><svg class="i" style="left:705.20px;top:452.30px;width:13.00px;height:12.60px;fill:#9e9e9e;" viewBox="0 32 448 448" preserveAspectRatio="xMidYMid meet"><path d="M32 32C14.3 32 0 46.3 0 64v96c0 17.7 14.3 32 32 32s32-14.3 32-32V96h64c17.7 0 32-14.3 32-32s-14.3-32-32-32zm32 320c0-17.7-14.3-32-32-32S0 334.3 0 352v96c0 17.7 14.3 32 32 32h96c17.7 0 32-14.3 32-32s-14.3-32-32-32H64zM320 32c-17.7 0-32 14.3-32 32s14.3 32 32 32h64v64c0 17.7 14.3 32 32 32s32-14.3 32-32V64c0-17.7-14.3-32-32-32zm128 320c0-17.7-14.3-32-32-32s-32 14.3-32 32v64h-64c-17.7 0-32 14.3-32 32s14.3 32 32 32h96c17.7 0 32-14.3 32-32z"/></svg><svg class="i" style="left:724.40px;top:457.00px;width:10.00px;height:5.60px;fill:#fff;" viewBox="0.45 192 320.03 191.95" preserveAspectRatio="xMidYMid meet"><path d="M140.3 376.8c12.6 10.2 31.1 9.5 42.8-2.2l128-128c9.2-9.2 11.9-22.9 6.9-34.9S301.4 192 288.5 192h-256c-12.9 0-24.6 7.8-29.6 19.8s-2.2 25.7 7 34.8l128 128z"/></svg><div class="t th" style="left:823.10px;top:448.20px;line-height:16px;">source_geo.organization_name</div><div class="ln" style="left:573px;top:471.80px;width:517px"></div><div class="t td" style="left:631.50px;width:400px;text-align:center;top:479.90px;line-height:16px;">No data available</div><div class="ln lf" style="left:573px;top:501.60px;width:517px"></div><div class="t ft" style="right:972.00px;top:520.00px;line-height:16px;">Items per page:</div><div class="sel" style="left:760px;top:512px"></div><div class="t sv" style="left:773.00px;top:519.90px;line-height:16px;">50</div><svg class="i" style="left:810.40px;top:528.40px;width:10.00px;height:5.80px;fill:#c4c4c4;" viewBox="0.45 192 320.03 191.95" preserveAspectRatio="xMidYMid meet"><path d="M140.3 376.8c12.6 10.2 31.1 9.5 42.8-2.2l128-128c9.2-9.2 11.9-22.9 6.9-34.9S301.4 192 288.5 192h-256c-12.9 0-24.6 7.8-29.6 19.8s-2.2 25.7 7 34.8l128 128z"/></svg><div class="t ft" style="left:873.90px;top:520.00px;line-height:16px;">0-0 of 0</div><svg class="i" style="left:954.30px;top:522.80px;width:10.20px;height:11.20px;fill:#636363;" viewBox="0 32.0 384 448.1" preserveAspectRatio="xMidYMid meet"><path d="M363 36.8c-12.9-7-28.7-6.3-41 1.8L64 208.1V64c0-17.7-14.3-32-32-32S0 46.3 0 64v384c0 17.7 14.3 32 32 32s32-14.3 32-32V303.9l258 169.6c12.3 8.1 28 8.8 41 1.8s21-20.5 21-35.2v-368c0-14.7-8.1-28.2-21-35.2z"/></svg><svg class="i" style="left:990.80px;top:522.00px;width:8.40px;height:12.90px;fill:#636363;" viewBox="0.02 31.92 256.05 448.15" preserveAspectRatio="xMidYMid meet"><path d="M9.4 233.4c-12.5 12.5-12.5 32.8 0 45.3l192 192c12.5 12.5 32.8 12.5 45.3 0s12.5-32.8 0-45.3L77.3 256 246.6 86.6c12.5-12.5 12.5-32.8 0-45.3s-32.8-12.5-45.3 0l-192 192z"/></svg><svg class="i" style="left:1029.00px;top:522.00px;width:8.40px;height:12.90px;fill:#636363;" viewBox="64.43 31.92 256.05 448.15" preserveAspectRatio="xMidYMid meet"><path d="M311.1 233.4c12.5 12.5 12.5 32.8 0 45.3l-192 192c-12.5 12.5-32.8 12.5-45.3 0s-12.5-32.8 0-45.3L243.2 256 73.9 86.6c-12.5-12.5-12.5-32.8 0-45.3s32.8-12.5 45.3 0l192 192z"/></svg><svg class="i" style="left:1063.40px;top:522.80px;width:10.20px;height:11.20px;fill:#636363;" viewBox="0 32.0 384 448.1" preserveAspectRatio="xMidYMid meet"><path d="M21 36.8c12.9-7 28.7-6.3 41 1.8l258 169.5V64c0-17.7 14.3-32 32-32s32 14.3 32 32v384c0 17.7-14.3 32-32 32s-32-14.3-32-32V303.9L62 473.5c-12.3 8.1-28 8.8-41 1.8S0 454.7 0 440V72c0-14.7 8.1-28.2 21-35.2"/></svg>
<div class="card" style="left:1110px;top:441.3px;width:597px;height:111px"></div><div class="t th on" style="left:1173.00px;top:448.60px;line-height:16px;">Count</div><svg class="i" style="left:1207.60px;top:451.70px;width:15.30px;height:14.20px;fill:#9e9e9e;" viewBox="32.4 1.86 539.5 510.14" preserveAspectRatio="xMidYMid meet"><path d="M512.4 240h-176c-17.7 0-32-14.3-32-32V32c0-17.7 14.4-32.2 31.9-29.9 107 14.2 191.8 99 206 206 2.3 17.5-12.2 31.9-29.9 31.9M222.6 37.2c18.1-3.8 33.8 11 33.8 29.5V264c0 5.6 2 11 5.5 15.3L394 438.7c11.7 14.1 9.2 35.4-6.9 44.1C353 501.4 313.9 512 272.4 512c-132.5 0-240-107.5-240-240 0-115.5 81.5-211.9 190.2-234.8M477.8 288h64c18.5 0 33.3 15.7 29.5 33.8-10.2 48.4-35 91.4-69.6 124.2-12.3 11.7-31.6 9.2-42.4-3.9l-84.4-101.7c-17.3-20.9-2.4-52.4 24.6-52.4h78.2z"/></svg><svg class="i" style="left:1224.40px;top:452.70px;width:14.60px;height:12.40px;fill:#9e9e9e;" viewBox="0 32 512 448" preserveAspectRatio="xMidYMid meet"><path d="M32 32c17.7 0 32 14.3 32 32v336c0 8.8 7.2 16 16 16h400c17.7 0 32 14.3 32 32s-14.3 32-32 32H80c-44.2 0-80-35.8-80-80V64c0-17.7 14.3-32 32-32m112 192c17.7 0 32 14.3 32 32v64c0 17.7-14.3 32-32 32s-32-14.3-32-32v-64c0-17.7 14.3-32 32-32m144-64v160c0 17.7-14.3 32-32 32s-32-14.3-32-32V160c0-17.7 14.3-32 32-32s32 14.3 32 32m80 32c17.7 0 32 14.3 32 32v96c0 17.7-14.3 32-32 32s-32-14.3-32-32v-96c0-17.7 14.3-32 32-32m144-96v224c0 17.7-14.3 32-32 32s-32-14.3-32-32V96c0-17.7 14.3-32 32-32s32 14.3 32 32"/></svg><svg class="i" style="left:1241.60px;top:452.20px;width:17.00px;height:13.40px;fill:#9e9e9e;" viewBox="0 32 512 448" preserveAspectRatio="xMidYMid meet"><path d="M0 80c0-26.5 21.5-48 48-48h96c26.5 0 48 21.5 48 48v16h128V80c0-26.5 21.5-48 48-48h96c26.5 0 48 21.5 48 48v96c0 26.5-21.5 48-48 48h-96c-26.5 0-48-21.5-48-48v-16H192v16c0 7.3-1.7 14.3-4.6 20.5L256 288h80c26.5 0 48 21.5 48 48v96c0 26.5-21.5 48-48 48h-96c-26.5 0-48-21.5-48-48v-96c0-7.3 1.7-14.3 4.6-20.5L128 224H48c-26.5 0-48-21.5-48-48z"/></svg><svg class="i" style="left:1263.60px;top:452.30px;width:13.00px;height:12.60px;fill:#9e9e9e;" viewBox="0 32 448 448" preserveAspectRatio="xMidYMid meet"><path d="M32 32C14.3 32 0 46.3 0 64v96c0 17.7 14.3 32 32 32s32-14.3 32-32V96h64c17.7 0 32-14.3 32-32s-14.3-32-32-32zm32 320c0-17.7-14.3-32-32-32S0 334.3 0 352v96c0 17.7 14.3 32 32 32h96c17.7 0 32-14.3 32-32s-14.3-32-32-32H64zM320 32c-17.7 0-32 14.3-32 32s14.3 32 32 32h64v64c0 17.7 14.3 32 32 32s32-14.3 32-32V64c0-17.7-14.3-32-32-32zm128 320c0-17.7-14.3-32-32-32s-32 14.3-32 32v64h-64c-17.7 0-32 14.3-32 32s14.3 32 32 32h96c17.7 0 32-14.3 32-32z"/></svg><svg class="i" style="left:1282.80px;top:457.00px;width:10.00px;height:5.60px;fill:#fff;" viewBox="0.45 192 320.03 191.95" preserveAspectRatio="xMidYMid meet"><path d="M140.3 376.8c12.6 10.2 31.1 9.5 42.8-2.2l128-128c9.2-9.2 11.9-22.9 6.9-34.9S301.4 192 288.5 192h-256c-12.9 0-24.6 7.8-29.6 19.8s-2.2 25.7 7 34.8l128 128z"/></svg><div class="t th" style="left:1321.10px;top:448.20px;line-height:16px;">destination_geo.organization_name</div><div class="t th" style="left:1533.10px;top:448.20px;line-height:16px;">destination.geo.country_name</div><div class="ln" style="left:1110px;top:471.80px;width:597px"></div><svg class="i" style="left:1126.95px;top:481.80px;width:14.80px;height:12.90px;fill:#2196f3;" viewBox="-0.02 0 512.04 480" preserveAspectRatio="none"><path d="M256 0c14.7 0 28.2 8.1 35.2 21l216 400c6.7 12.4 6.4 27.4-.8 39.5S486.1 480 472 480H40c-14.1 0-27.2-7.4-34.4-19.5s-7.5-27.1-.8-39.5l216-400c7-12.9 20.5-21 35.2-21m0 352a32 32 0 1 0 0 64 32 32 0 1 0 0-64m0-192c-18.2 0-32.7 15.5-31.4 33.7l7.4 104c.9 12.5 11.4 22.3 23.9 22.3 12.6 0 23-9.7 23.9-22.3l7.4-104c1.3-18.2-13.1-33.7-31.4-33.7z"/></svg><div class="t td" style="left:1173.30px;top:480.10px;line-height:16px;">12</div><div class="t td" style="left:1321.20px;top:480.10px;line-height:16px;">Webzilla B.V.</div><div class="t td" style="left:1533.20px;top:480.10px;line-height:16px;">The Netherlands</div><div class="ln lf" style="left:1110px;top:501.60px;width:597px"></div><div class="t ft" style="right:355.40px;top:520.00px;line-height:16px;">Items per page:</div><div class="sel" style="left:1377px;top:512px"></div><div class="t sv" style="left:1389.60px;top:519.90px;line-height:16px;">50</div><svg class="i" style="left:1427.00px;top:528.40px;width:10.00px;height:5.80px;fill:#c4c4c4;" viewBox="0.45 192 320.03 191.95" preserveAspectRatio="xMidYMid meet"><path d="M140.3 376.8c12.6 10.2 31.1 9.5 42.8-2.2l128-128c9.2-9.2 11.9-22.9 6.9-34.9S301.4 192 288.5 192h-256c-12.9 0-24.6 7.8-29.6 19.8s-2.2 25.7 7 34.8l128 128z"/></svg><div class="t ft" style="left:1491.80px;top:520.00px;line-height:16px;">1-1 of 1</div><svg class="i" style="left:1570.90px;top:522.80px;width:10.20px;height:11.20px;fill:#636363;" viewBox="0 32.0 384 448.1" preserveAspectRatio="xMidYMid meet"><path d="M363 36.8c-12.9-7-28.7-6.3-41 1.8L64 208.1V64c0-17.7-14.3-32-32-32S0 46.3 0 64v384c0 17.7 14.3 32 32 32s32-14.3 32-32V303.9l258 169.6c12.3 8.1 28 8.8 41 1.8s21-20.5 21-35.2v-368c0-14.7-8.1-28.2-21-35.2z"/></svg><svg class="i" style="left:1607.40px;top:522.00px;width:8.40px;height:12.90px;fill:#636363;" viewBox="0.02 31.92 256.05 448.15" preserveAspectRatio="xMidYMid meet"><path d="M9.4 233.4c-12.5 12.5-12.5 32.8 0 45.3l192 192c12.5 12.5 32.8 12.5 45.3 0s12.5-32.8 0-45.3L77.3 256 246.6 86.6c12.5-12.5 12.5-32.8 0-45.3s-32.8-12.5-45.3 0l-192 192z"/></svg><svg class="i" style="left:1645.60px;top:522.00px;width:8.40px;height:12.90px;fill:#636363;" viewBox="64.43 31.92 256.05 448.15" preserveAspectRatio="xMidYMid meet"><path d="M311.1 233.4c12.5 12.5 12.5 32.8 0 45.3l-192 192c-12.5 12.5-32.8 12.5-45.3 0s-12.5-32.8 0-45.3L243.2 256 73.9 86.6c-12.5-12.5-12.5-32.8 0-45.3s32.8-12.5 45.3 0l192 192z"/></svg><svg class="i" style="left:1680.00px;top:522.80px;width:10.20px;height:11.20px;fill:#636363;" viewBox="0 32.0 384 448.1" preserveAspectRatio="xMidYMid meet"><path d="M21 36.8c12.9-7 28.7-6.3 41 1.8l258 169.5V64c0-17.7 14.3-32 32-32s32 14.3 32 32v384c0 17.7-14.3 32-32 32s-32-14.3-32-32V303.9L62 473.5c-12.3 8.1-28 8.8-41 1.8S0 454.7 0 440V72c0-14.7 8.1-28.2 21-35.2"/></svg>
<div class="card" style="left:36px;top:571.8px;width:841px;height:111.5px"></div><div class="t th on" style="left:100.00px;top:579.20px;line-height:16px;">Count</div><svg class="i" style="left:134.60px;top:582.30px;width:15.30px;height:14.20px;fill:#9e9e9e;" viewBox="32.4 1.86 539.5 510.14" preserveAspectRatio="xMidYMid meet"><path d="M512.4 240h-176c-17.7 0-32-14.3-32-32V32c0-17.7 14.4-32.2 31.9-29.9 107 14.2 191.8 99 206 206 2.3 17.5-12.2 31.9-29.9 31.9M222.6 37.2c18.1-3.8 33.8 11 33.8 29.5V264c0 5.6 2 11 5.5 15.3L394 438.7c11.7 14.1 9.2 35.4-6.9 44.1C353 501.4 313.9 512 272.4 512c-132.5 0-240-107.5-240-240 0-115.5 81.5-211.9 190.2-234.8M477.8 288h64c18.5 0 33.3 15.7 29.5 33.8-10.2 48.4-35 91.4-69.6 124.2-12.3 11.7-31.6 9.2-42.4-3.9l-84.4-101.7c-17.3-20.9-2.4-52.4 24.6-52.4h78.2z"/></svg><svg class="i" style="left:151.40px;top:583.30px;width:14.60px;height:12.40px;fill:#9e9e9e;" viewBox="0 32 512 448" preserveAspectRatio="xMidYMid meet"><path d="M32 32c17.7 0 32 14.3 32 32v336c0 8.8 7.2 16 16 16h400c17.7 0 32 14.3 32 32s-14.3 32-32 32H80c-44.2 0-80-35.8-80-80V64c0-17.7 14.3-32 32-32m112 192c17.7 0 32 14.3 32 32v64c0 17.7-14.3 32-32 32s-32-14.3-32-32v-64c0-17.7 14.3-32 32-32m144-64v160c0 17.7-14.3 32-32 32s-32-14.3-32-32V160c0-17.7 14.3-32 32-32s32 14.3 32 32m80 32c17.7 0 32 14.3 32 32v96c0 17.7-14.3 32-32 32s-32-14.3-32-32v-96c0-17.7 14.3-32 32-32m144-96v224c0 17.7-14.3 32-32 32s-32-14.3-32-32V96c0-17.7 14.3-32 32-32s32 14.3 32 32"/></svg><svg class="i" style="left:168.60px;top:582.80px;width:17.00px;height:13.40px;fill:#9e9e9e;" viewBox="0 32 512 448" preserveAspectRatio="xMidYMid meet"><path d="M0 80c0-26.5 21.5-48 48-48h96c26.5 0 48 21.5 48 48v16h128V80c0-26.5 21.5-48 48-48h96c26.5 0 48 21.5 48 48v96c0 26.5-21.5 48-48 48h-96c-26.5 0-48-21.5-48-48v-16H192v16c0 7.3-1.7 14.3-4.6 20.5L256 288h80c26.5 0 48 21.5 48 48v96c0 26.5-21.5 48-48 48h-96c-26.5 0-48-21.5-48-48v-96c0-7.3 1.7-14.3 4.6-20.5L128 224H48c-26.5 0-48-21.5-48-48z"/></svg><svg class="i" style="left:190.60px;top:582.90px;width:13.00px;height:12.60px;fill:#9e9e9e;" viewBox="0 32 448 448" preserveAspectRatio="xMidYMid meet"><path d="M32 32C14.3 32 0 46.3 0 64v96c0 17.7 14.3 32 32 32s32-14.3 32-32V96h64c17.7 0 32-14.3 32-32s-14.3-32-32-32zm32 320c0-17.7-14.3-32-32-32S0 334.3 0 352v96c0 17.7 14.3 32 32 32h96c17.7 0 32-14.3 32-32s-14.3-32-32-32H64zM320 32c-17.7 0-32 14.3-32 32s14.3 32 32 32h64v64c0 17.7 14.3 32 32 32s32-14.3 32-32V64c0-17.7-14.3-32-32-32zm128 320c0-17.7-14.3-32-32-32s-32 14.3-32 32v64h-64c-17.7 0-32 14.3-32 32s14.3 32 32 32h96c17.7 0 32-14.3 32-32z"/></svg><svg class="i" style="left:209.80px;top:587.60px;width:10.00px;height:5.60px;fill:#fff;" viewBox="0.45 192 320.03 191.95" preserveAspectRatio="xMidYMid meet"><path d="M140.3 376.8c12.6 10.2 31.1 9.5 42.8-2.2l128-128c9.2-9.2 11.9-22.9 6.9-34.9S301.4 192 288.5 192h-256c-12.9 0-24.6 7.8-29.6 19.8s-2.2 25.7 7 34.8l128 128z"/></svg><div class="t th" style="left:247.60px;top:578.80px;line-height:16px;">rule.name</div><div class="t th" style="left:479.60px;top:578.80px;line-height:16px;">rule.category</div><div class="t th" style="left:750.30px;top:578.80px;line-height:16px;">event.severity_label</div><div class="ln" style="left:36px;top:603.30px;width:841px"></div><svg class="i" style="left:53.85px;top:613.00px;width:14.80px;height:12.90px;fill:#2196f3;" viewBox="-0.02 0 512.04 480" preserveAspectRatio="none"><path d="M256 0c14.7 0 28.2 8.1 35.2 21l216 400c6.7 12.4 6.4 27.4-.8 39.5S486.1 480 472 480H40c-14.1 0-27.2-7.4-34.4-19.5s-7.5-27.1-.8-39.5l216-400c7-12.9 20.5-21 35.2-21m0 352a32 32 0 1 0 0 64 32 32 0 1 0 0-64m0-192c-18.2 0-32.7 15.5-31.4 33.7l7.4 104c.9 12.5 11.4 22.3 23.9 22.3 12.6 0 23-9.7 23.9-22.3l7.4-104c1.3-18.2-13.1-33.7-31.4-33.7z"/></svg><div class="t td" style="left:100.30px;top:609.80px;line-height:16px;">2</div><div class="t td" style="left:247.70px;top:609.80px;line-height:16px;">ET MALWARE Zbot POST Request to C2</div><div class="t td" style="left:479.70px;top:609.80px;line-height:16px;">Malware Command and Control Activity Detected</div><div class="t td" style="left:750.40px;top:609.80px;line-height:16px;">high</div><div class="ln lf" style="left:36px;top:632.10px;width:841px"></div><div class="t ft" style="right:1185.20px;top:649.80px;line-height:16px;">Items per page:</div><div class="sel" style="left:547px;top:642px"></div><div class="t sv" style="left:559.80px;top:650.30px;line-height:16px;">50</div><svg class="i" style="left:597.20px;top:658.20px;width:10.00px;height:5.80px;fill:#c4c4c4;" viewBox="0.45 192 320.03 191.95" preserveAspectRatio="xMidYMid meet"><path d="M140.3 376.8c12.6 10.2 31.1 9.5 42.8-2.2l128-128c9.2-9.2 11.9-22.9 6.9-34.9S301.4 192 288.5 192h-256c-12.9 0-24.6 7.8-29.6 19.8s-2.2 25.7 7 34.8l128 128z"/></svg><div class="t ft" style="left:662.00px;top:649.80px;line-height:16px;">1-1 of 1</div><svg class="i" style="left:741.10px;top:654.10px;width:10.20px;height:11.20px;fill:#636363;" viewBox="0 32.0 384 448.1" preserveAspectRatio="xMidYMid meet"><path d="M363 36.8c-12.9-7-28.7-6.3-41 1.8L64 208.1V64c0-17.7-14.3-32-32-32S0 46.3 0 64v384c0 17.7 14.3 32 32 32s32-14.3 32-32V303.9l258 169.6c12.3 8.1 28 8.8 41 1.8s21-20.5 21-35.2v-368c0-14.7-8.1-28.2-21-35.2z"/></svg><svg class="i" style="left:777.60px;top:653.30px;width:8.40px;height:12.90px;fill:#636363;" viewBox="0.02 31.92 256.05 448.15" preserveAspectRatio="xMidYMid meet"><path d="M9.4 233.4c-12.5 12.5-12.5 32.8 0 45.3l192 192c12.5 12.5 32.8 12.5 45.3 0s12.5-32.8 0-45.3L77.3 256 246.6 86.6c12.5-12.5 12.5-32.8 0-45.3s-32.8-12.5-45.3 0l-192 192z"/></svg><svg class="i" style="left:815.80px;top:653.30px;width:8.40px;height:12.90px;fill:#636363;" viewBox="64.43 31.92 256.05 448.15" preserveAspectRatio="xMidYMid meet"><path d="M311.1 233.4c12.5 12.5 12.5 32.8 0 45.3l-192 192c-12.5 12.5-32.8 12.5-45.3 0s-12.5-32.8 0-45.3L243.2 256 73.9 86.6c-12.5-12.5-12.5-32.8 0-45.3s32.8-12.5 45.3 0l192 192z"/></svg><svg class="i" style="left:850.20px;top:654.10px;width:10.20px;height:11.20px;fill:#636363;" viewBox="0 32.0 384 448.1" preserveAspectRatio="xMidYMid meet"><path d="M21 36.8c12.9-7 28.7-6.3 41 1.8l258 169.5V64c0-17.7 14.3-32 32-32s32 14.3 32 32v384c0 17.7-14.3 32-32 32s-32-14.3-32-32V303.9L62 473.5c-12.3 8.1-28 8.8-41 1.8S0 454.7 0 440V72c0-14.7 8.1-28.2 21-35.2"/></svg>
<div class="card" style="left:896px;top:571.8px;width:396px;height:150px"></div><div class="t th on" style="left:953.50px;top:579.20px;line-height:16px;">Count</div><svg class="i" style="left:988.10px;top:582.30px;width:15.30px;height:14.20px;fill:#9e9e9e;" viewBox="32.4 1.86 539.5 510.14" preserveAspectRatio="xMidYMid meet"><path d="M512.4 240h-176c-17.7 0-32-14.3-32-32V32c0-17.7 14.4-32.2 31.9-29.9 107 14.2 191.8 99 206 206 2.3 17.5-12.2 31.9-29.9 31.9M222.6 37.2c18.1-3.8 33.8 11 33.8 29.5V264c0 5.6 2 11 5.5 15.3L394 438.7c11.7 14.1 9.2 35.4-6.9 44.1C353 501.4 313.9 512 272.4 512c-132.5 0-240-107.5-240-240 0-115.5 81.5-211.9 190.2-234.8M477.8 288h64c18.5 0 33.3 15.7 29.5 33.8-10.2 48.4-35 91.4-69.6 124.2-12.3 11.7-31.6 9.2-42.4-3.9l-84.4-101.7c-17.3-20.9-2.4-52.4 24.6-52.4h78.2z"/></svg><svg class="i" style="left:1004.90px;top:583.30px;width:14.60px;height:12.40px;fill:#9e9e9e;" viewBox="0 32 512 448" preserveAspectRatio="xMidYMid meet"><path d="M32 32c17.7 0 32 14.3 32 32v336c0 8.8 7.2 16 16 16h400c17.7 0 32 14.3 32 32s-14.3 32-32 32H80c-44.2 0-80-35.8-80-80V64c0-17.7 14.3-32 32-32m112 192c17.7 0 32 14.3 32 32v64c0 17.7-14.3 32-32 32s-32-14.3-32-32v-64c0-17.7 14.3-32 32-32m144-64v160c0 17.7-14.3 32-32 32s-32-14.3-32-32V160c0-17.7 14.3-32 32-32s32 14.3 32 32m80 32c17.7 0 32 14.3 32 32v96c0 17.7-14.3 32-32 32s-32-14.3-32-32v-96c0-17.7 14.3-32 32-32m144-96v224c0 17.7-14.3 32-32 32s-32-14.3-32-32V96c0-17.7 14.3-32 32-32s32 14.3 32 32"/></svg><svg class="i" style="left:1026.70px;top:582.90px;width:13.00px;height:12.60px;fill:#9e9e9e;" viewBox="0 32 448 448" preserveAspectRatio="xMidYMid meet"><path d="M32 32C14.3 32 0 46.3 0 64v96c0 17.7 14.3 32 32 32s32-14.3 32-32V96h64c17.7 0 32-14.3 32-32s-14.3-32-32-32zm32 320c0-17.7-14.3-32-32-32S0 334.3 0 352v96c0 17.7 14.3 32 32 32h96c17.7 0 32-14.3 32-32s-14.3-32-32-32H64zM320 32c-17.7 0-32 14.3-32 32s14.3 32 32 32h64v64c0 17.7 14.3 32 32 32s32-14.3 32-32V64c0-17.7-14.3-32-32-32zm128 320c0-17.7-14.3-32-32-32s-32 14.3-32 32v64h-64c-17.7 0-32 14.3-32 32s14.3 32 32 32h96c17.7 0 32-14.3 32-32z"/></svg><svg class="i" style="left:1045.90px;top:587.60px;width:10.00px;height:5.60px;fill:#fff;" viewBox="0.45 192 320.03 191.95" preserveAspectRatio="xMidYMid meet"><path d="M140.3 376.8c12.6 10.2 31.1 9.5 42.8-2.2l128-128c9.2-9.2 11.9-22.9 6.9-34.9S301.4 192 288.5 192h-256c-12.9 0-24.6 7.8-29.6 19.8s-2.2 25.7 7 34.8l128 128z"/></svg><div class="t th" style="left:1134.60px;top:578.80px;line-height:16px;">dns.query.name</div><div class="ln" style="left:896px;top:603.30px;width:396px"></div><div class="t td" style="left:894.00px;width:400px;text-align:center;top:609.60px;line-height:16px;">No data available</div><div class="ln lf" style="left:896px;top:632.10px;width:396px"></div><div class="t ft" style="right:609.00px;top:648.00px;line-height:16px;">Items per page:</div><div class="sel" style="left:1124px;top:640px"></div><div class="t sv" style="left:1136.80px;top:647.50px;line-height:16px;">50</div><svg class="i" style="left:1174.20px;top:654.50px;width:10.00px;height:5.80px;fill:#c4c4c4;" viewBox="0.45 192 320.03 191.95" preserveAspectRatio="xMidYMid meet"><path d="M140.3 376.8c12.6 10.2 31.1 9.5 42.8-2.2l128-128c9.2-9.2 11.9-22.9 6.9-34.9S301.4 192 288.5 192h-256c-12.9 0-24.6 7.8-29.6 19.8s-2.2 25.7 7 34.8l128 128z"/></svg><div class="t ft" style="left:1238.20px;top:648.00px;line-height:16px;">0-0 of 0</div><svg class="i" style="left:1155.70px;top:686.40px;width:10.20px;height:11.20px;fill:#636363;" viewBox="0 32.0 384 448.1" preserveAspectRatio="xMidYMid meet"><path d="M363 36.8c-12.9-7-28.7-6.3-41 1.8L64 208.1V64c0-17.7-14.3-32-32-32S0 46.3 0 64v384c0 17.7 14.3 32 32 32s32-14.3 32-32V303.9l258 169.6c12.3 8.1 28 8.8 41 1.8s21-20.5 21-35.2v-368c0-14.7-8.1-28.2-21-35.2z"/></svg><svg class="i" style="left:1192.20px;top:685.60px;width:8.40px;height:12.90px;fill:#636363;" viewBox="0.02 31.92 256.05 448.15" preserveAspectRatio="xMidYMid meet"><path d="M9.4 233.4c-12.5 12.5-12.5 32.8 0 45.3l192 192c12.5 12.5 32.8 12.5 45.3 0s12.5-32.8 0-45.3L77.3 256 246.6 86.6c12.5-12.5 12.5-32.8 0-45.3s-32.8-12.5-45.3 0l-192 192z"/></svg><svg class="i" style="left:1230.40px;top:685.60px;width:8.40px;height:12.90px;fill:#636363;" viewBox="64.43 31.92 256.05 448.15" preserveAspectRatio="xMidYMid meet"><path d="M311.1 233.4c12.5 12.5 12.5 32.8 0 45.3l-192 192c-12.5 12.5-32.8 12.5-45.3 0s-12.5-32.8 0-45.3L243.2 256 73.9 86.6c-12.5-12.5-12.5-32.8 0-45.3s32.8-12.5 45.3 0l192 192z"/></svg><svg class="i" style="left:1264.80px;top:686.40px;width:10.20px;height:11.20px;fill:#636363;" viewBox="0 32.0 384 448.1" preserveAspectRatio="xMidYMid meet"><path d="M21 36.8c12.9-7 28.7-6.3 41 1.8l258 169.5V64c0-17.7 14.3-32 32-32s32 14.3 32 32v384c0 17.7-14.3 32-32 32s-32-14.3-32-32V303.9L62 473.5c-12.3 8.1-28 8.8-41 1.8S0 454.7 0 440V72c0-14.7 8.1-28.2 21-35.2"/></svg>
<div class="card" style="left:1311px;top:571.8px;width:396px;height:150px"></div><div class="t th on" style="left:1369.50px;top:579.20px;line-height:16px;">Count</div><svg class="i" style="left:1404.10px;top:582.30px;width:15.30px;height:14.20px;fill:#9e9e9e;" viewBox="32.4 1.86 539.5 510.14" preserveAspectRatio="xMidYMid meet"><path d="M512.4 240h-176c-17.7 0-32-14.3-32-32V32c0-17.7 14.4-32.2 31.9-29.9 107 14.2 191.8 99 206 206 2.3 17.5-12.2 31.9-29.9 31.9M222.6 37.2c18.1-3.8 33.8 11 33.8 29.5V264c0 5.6 2 11 5.5 15.3L394 438.7c11.7 14.1 9.2 35.4-6.9 44.1C353 501.4 313.9 512 272.4 512c-132.5 0-240-107.5-240-240 0-115.5 81.5-211.9 190.2-234.8M477.8 288h64c18.5 0 33.3 15.7 29.5 33.8-10.2 48.4-35 91.4-69.6 124.2-12.3 11.7-31.6 9.2-42.4-3.9l-84.4-101.7c-17.3-20.9-2.4-52.4 24.6-52.4h78.2z"/></svg><svg class="i" style="left:1420.90px;top:583.30px;width:14.60px;height:12.40px;fill:#9e9e9e;" viewBox="0 32 512 448" preserveAspectRatio="xMidYMid meet"><path d="M32 32c17.7 0 32 14.3 32 32v336c0 8.8 7.2 16 16 16h400c17.7 0 32 14.3 32 32s-14.3 32-32 32H80c-44.2 0-80-35.8-80-80V64c0-17.7 14.3-32 32-32m112 192c17.7 0 32 14.3 32 32v64c0 17.7-14.3 32-32 32s-32-14.3-32-32v-64c0-17.7 14.3-32 32-32m144-64v160c0 17.7-14.3 32-32 32s-32-14.3-32-32V160c0-17.7 14.3-32 32-32s32 14.3 32 32m80 32c17.7 0 32 14.3 32 32v96c0 17.7-14.3 32-32 32s-32-14.3-32-32v-96c0-17.7 14.3-32 32-32m144-96v224c0 17.7-14.3 32-32 32s-32-14.3-32-32V96c0-17.7 14.3-32 32-32s32 14.3 32 32"/></svg><svg class="i" style="left:1442.70px;top:582.90px;width:13.00px;height:12.60px;fill:#9e9e9e;" viewBox="0 32 448 448" preserveAspectRatio="xMidYMid meet"><path d="M32 32C14.3 32 0 46.3 0 64v96c0 17.7 14.3 32 32 32s32-14.3 32-32V96h64c17.7 0 32-14.3 32-32s-14.3-32-32-32zm32 320c0-17.7-14.3-32-32-32S0 334.3 0 352v96c0 17.7 14.3 32 32 32h96c17.7 0 32-14.3 32-32s-14.3-32-32-32H64zM320 32c-17.7 0-32 14.3-32 32s14.3 32 32 32h64v64c0 17.7 14.3 32 32 32s32-14.3 32-32V64c0-17.7-14.3-32-32-32zm128 320c0-17.7-14.3-32-32-32s-32 14.3-32 32v64h-64c-17.7 0-32 14.3-32 32s14.3 32 32 32h96c17.7 0 32-14.3 32-32z"/></svg><svg class="i" style="left:1461.90px;top:587.60px;width:10.00px;height:5.60px;fill:#fff;" viewBox="0.45 192 320.03 191.95" preserveAspectRatio="xMidYMid meet"><path d="M140.3 376.8c12.6 10.2 31.1 9.5 42.8-2.2l128-128c9.2-9.2 11.9-22.9 6.9-34.9S301.4 192 288.5 192h-256c-12.9 0-24.6 7.8-29.6 19.8s-2.2 25.7 7 34.8l128 128z"/></svg><div class="t th" style="left:1555.80px;top:578.80px;line-height:16px;">file.mime_type</div><div class="ln" style="left:1311px;top:603.30px;width:396px"></div><div class="t td" style="left:1309.00px;width:400px;text-align:center;top:609.60px;line-height:16px;">No data available</div><div class="ln lf" style="left:1311px;top:632.10px;width:396px"></div><div class="t ft" style="right:194.00px;top:648.00px;line-height:16px;">Items per page:</div><div class="sel" style="left:1539px;top:640px"></div><div class="t sv" style="left:1551.80px;top:647.50px;line-height:16px;">50</div><svg class="i" style="left:1589.20px;top:654.50px;width:10.00px;height:5.80px;fill:#c4c4c4;" viewBox="0.45 192 320.03 191.95" preserveAspectRatio="xMidYMid meet"><path d="M140.3 376.8c12.6 10.2 31.1 9.5 42.8-2.2l128-128c9.2-9.2 11.9-22.9 6.9-34.9S301.4 192 288.5 192h-256c-12.9 0-24.6 7.8-29.6 19.8s-2.2 25.7 7 34.8l128 128z"/></svg><div class="t ft" style="left:1653.00px;top:648.00px;line-height:16px;">0-0 of 0</div><svg class="i" style="left:1570.70px;top:686.40px;width:10.20px;height:11.20px;fill:#636363;" viewBox="0 32.0 384 448.1" preserveAspectRatio="xMidYMid meet"><path d="M363 36.8c-12.9-7-28.7-6.3-41 1.8L64 208.1V64c0-17.7-14.3-32-32-32S0 46.3 0 64v384c0 17.7 14.3 32 32 32s32-14.3 32-32V303.9l258 169.6c12.3 8.1 28 8.8 41 1.8s21-20.5 21-35.2v-368c0-14.7-8.1-28.2-21-35.2z"/></svg><svg class="i" style="left:1607.20px;top:685.60px;width:8.40px;height:12.90px;fill:#636363;" viewBox="0.02 31.92 256.05 448.15" preserveAspectRatio="xMidYMid meet"><path d="M9.4 233.4c-12.5 12.5-12.5 32.8 0 45.3l192 192c12.5 12.5 32.8 12.5 45.3 0s12.5-32.8 0-45.3L77.3 256 246.6 86.6c12.5-12.5 12.5-32.8 0-45.3s-32.8-12.5-45.3 0l-192 192z"/></svg><svg class="i" style="left:1645.40px;top:685.60px;width:8.40px;height:12.90px;fill:#636363;" viewBox="64.43 31.92 256.05 448.15" preserveAspectRatio="xMidYMid meet"><path d="M311.1 233.4c12.5 12.5 12.5 32.8 0 45.3l-192 192c-12.5 12.5-32.8 12.5-45.3 0s-12.5-32.8 0-45.3L243.2 256 73.9 86.6c-12.5-12.5-12.5-32.8 0-45.3s32.8-12.5 45.3 0l192 192z"/></svg><svg class="i" style="left:1679.80px;top:686.40px;width:10.20px;height:11.20px;fill:#636363;" viewBox="0 32.0 384 448.1" preserveAspectRatio="xMidYMid meet"><path d="M21 36.8c12.9-7 28.7-6.3 41 1.8l258 169.5V64c0-17.7 14.3-32 32-32s32 14.3 32 32v384c0 17.7-14.3 32-32 32s-32-14.3-32-32V303.9L62 473.5c-12.3 8.1-28 8.8-41 1.8S0 454.7 0 440V72c0-14.7 8.1-28.2 21-35.2"/></svg>
<svg class="i" style="left:325.10px;top:145.90px;width:11.40px;height:11.40px;fill:#8e8e8e;" viewBox="0 0 512 512" preserveAspectRatio="xMidYMid meet"><path d="M256 512a256 256 0 1 0 0-512 256 256 0 1 0 0 512m-89-345c9.4-9.4 24.6-9.4 33.9 0l55 55 55-55c9.4-9.4 24.6-9.4 33.9 0s9.4 24.6 0 33.9l-55 55 55 55c9.4 9.4 9.4 24.6 0 33.9s-24.6 9.4-33.9 0l-55-55-55 55c-9.4 9.4-24.6 9.4-33.9 0s-9.4-24.6 0-33.9l55-55-55-55c-9.4-9.4-9.4-24.6 0-33.9"/></svg>
<svg class="i" style="left:1024.30px;top:145.90px;width:11.40px;height:11.40px;fill:#8e8e8e;" viewBox="0 0 512 512" preserveAspectRatio="xMidYMid meet"><path d="M256 512a256 256 0 1 0 0-512 256 256 0 1 0 0 512m-89-345c9.4-9.4 24.6-9.4 33.9 0l55 55 55-55c9.4-9.4 24.6-9.4 33.9 0s9.4 24.6 0 33.9l-55 55 55 55c9.4 9.4 9.4 24.6 0 33.9s-24.6 9.4-33.9 0l-55-55-55 55c-9.4 9.4-24.6 9.4-33.9 0s-9.4-24.6 0-33.9l55-55-55-55c-9.4-9.4-9.4-24.6 0-33.9"/></svg>
<svg class="i" style="left:1348.00px;top:145.90px;width:11.40px;height:11.40px;fill:#8e8e8e;" viewBox="0 0 512 512" preserveAspectRatio="xMidYMid meet"><path d="M256 512a256 256 0 1 0 0-512 256 256 0 1 0 0 512m-89-345c9.4-9.4 24.6-9.4 33.9 0l55 55 55-55c9.4-9.4 24.6-9.4 33.9 0s9.4 24.6 0 33.9l-55 55 55 55c9.4 9.4 9.4 24.6 0 33.9s-24.6 9.4-33.9 0l-55-55-55 55c-9.4 9.4-24.6 9.4-33.9 0s-9.4-24.6 0-33.9l55-55-55-55c-9.4-9.4-9.4-24.6 0-33.9"/></svg>
<svg class="i" style="left:1449.30px;top:145.90px;width:11.40px;height:11.40px;fill:#8e8e8e;" viewBox="0 0 512 512" preserveAspectRatio="xMidYMid meet"><path d="M256 512a256 256 0 1 0 0-512 256 256 0 1 0 0 512m-89-345c9.4-9.4 24.6-9.4 33.9 0l55 55 55-55c9.4-9.4 24.6-9.4 33.9 0s9.4 24.6 0 33.9l-55 55 55 55c9.4 9.4 9.4 24.6 0 33.9s-24.6 9.4-33.9 0l-55-55-55 55c-9.4 9.4-24.6 9.4-33.9 0s-9.4-24.6 0-33.9l55-55-55-55c-9.4-9.4-9.4-24.6 0-33.9"/></svg>
<svg class="i" style="left:1559.80px;top:145.90px;width:11.40px;height:11.40px;fill:#8e8e8e;" viewBox="0 0 512 512" preserveAspectRatio="xMidYMid meet"><path d="M256 512a256 256 0 1 0 0-512 256 256 0 1 0 0 512m-89-345c9.4-9.4 24.6-9.4 33.9 0l55 55 55-55c9.4-9.4 24.6-9.4 33.9 0s9.4 24.6 0 33.9l-55 55 55 55c9.4 9.4 9.4 24.6 0 33.9s-24.6 9.4-33.9 0l-55-55-55 55c-9.4 9.4-24.6 9.4-33.9 0s-9.4-24.6 0-33.9l55-55-55-55c-9.4-9.4-9.4-24.6 0-33.9"/></svg>
<svg class="i" style="left:1680.30px;top:145.90px;width:11.40px;height:11.40px;fill:#8e8e8e;" viewBox="0 0 512 512" preserveAspectRatio="xMidYMid meet"><path d="M256 512a256 256 0 1 0 0-512 256 256 0 1 0 0 512m-89-345c9.4-9.4 24.6-9.4 33.9 0l55 55 55-55c9.4-9.4 24.6-9.4 33.9 0s9.4 24.6 0 33.9l-55 55 55 55c9.4 9.4 9.4 24.6 0 33.9s-24.6 9.4-33.9 0l-55-55-55 55c-9.4 9.4-24.6 9.4-33.9 0s-9.4-24.6 0-33.9l55-55-55-55c-9.4-9.4-9.4-24.6 0-33.9"/></svg>
<svg class="i" style="left:440.80px;top:450.70px;width:11.40px;height:11.40px;fill:#8e8e8e;" viewBox="0 0 512 512" preserveAspectRatio="xMidYMid meet"><path d="M256 512a256 256 0 1 0 0-512 256 256 0 1 0 0 512m-89-345c9.4-9.4 24.6-9.4 33.9 0l55 55 55-55c9.4-9.4 24.6-9.4 33.9 0s9.4 24.6 0 33.9l-55 55 55 55c9.4 9.4 9.4 24.6 0 33.9s-24.6 9.4-33.9 0l-55-55-55 55c-9.4 9.4-24.6 9.4-33.9 0s-9.4-24.6 0-33.9l55-55-55-55c-9.4-9.4-9.4-24.6 0-33.9"/></svg>
<svg class="i" style="left:974.80px;top:450.70px;width:11.40px;height:11.40px;fill:#8e8e8e;" viewBox="0 0 512 512" preserveAspectRatio="xMidYMid meet"><path d="M256 512a256 256 0 1 0 0-512 256 256 0 1 0 0 512m-89-345c9.4-9.4 24.6-9.4 33.9 0l55 55 55-55c9.4-9.4 24.6-9.4 33.9 0s9.4 24.6 0 33.9l-55 55 55 55c9.4 9.4 9.4 24.6 0 33.9s-24.6 9.4-33.9 0l-55-55-55 55c-9.4 9.4-24.6 9.4-33.9 0s-9.4-24.6 0-33.9l55-55-55-55c-9.4-9.4-9.4-24.6 0-33.9"/></svg>
<svg class="i" style="left:1492.80px;top:450.70px;width:11.40px;height:11.40px;fill:#8e8e8e;" viewBox="0 0 512 512" preserveAspectRatio="xMidYMid meet"><path d="M256 512a256 256 0 1 0 0-512 256 256 0 1 0 0 512m-89-345c9.4-9.4 24.6-9.4 33.9 0l55 55 55-55c9.4-9.4 24.6-9.4 33.9 0s9.4 24.6 0 33.9l-55 55 55 55c9.4 9.4 9.4 24.6 0 33.9s-24.6 9.4-33.9 0l-55-55-55 55c-9.4 9.4-24.6 9.4-33.9 0s-9.4-24.6 0-33.9l55-55-55-55c-9.4-9.4-9.4-24.6 0-33.9"/></svg>
<svg class="i" style="left:1680.30px;top:450.70px;width:11.40px;height:11.40px;fill:#8e8e8e;" viewBox="0 0 512 512" preserveAspectRatio="xMidYMid meet"><path d="M256 512a256 256 0 1 0 0-512 256 256 0 1 0 0 512m-89-345c9.4-9.4 24.6-9.4 33.9 0l55 55 55-55c9.4-9.4 24.6-9.4 33.9 0s9.4 24.6 0 33.9l-55 55 55 55c9.4 9.4 9.4 24.6 0 33.9s-24.6 9.4-33.9 0l-55-55-55 55c-9.4 9.4-24.6 9.4-33.9 0s-9.4-24.6 0-33.9l55-55-55-55c-9.4-9.4-9.4-24.6 0-33.9"/></svg>
<svg class="i" style="left:301.80px;top:581.80px;width:11.40px;height:11.40px;fill:#8e8e8e;" viewBox="0 0 512 512" preserveAspectRatio="xMidYMid meet"><path d="M256 512a256 256 0 1 0 0-512 256 256 0 1 0 0 512m-89-345c9.4-9.4 24.6-9.4 33.9 0l55 55 55-55c9.4-9.4 24.6-9.4 33.9 0s9.4 24.6 0 33.9l-55 55 55 55c9.4 9.4 9.4 24.6 0 33.9s-24.6 9.4-33.9 0l-55-55-55 55c-9.4 9.4-24.6 9.4-33.9 0s-9.4-24.6 0-33.9l55-55-55-55c-9.4-9.4-9.4-24.6 0-33.9"/></svg>
<svg class="i" style="left:548.90px;top:581.80px;width:11.40px;height:11.40px;fill:#8e8e8e;" viewBox="0 0 512 512" preserveAspectRatio="xMidYMid meet"><path d="M256 512a256 256 0 1 0 0-512 256 256 0 1 0 0 512m-89-345c9.4-9.4 24.6-9.4 33.9 0l55 55 55-55c9.4-9.4 24.6-9.4 33.9 0s9.4 24.6 0 33.9l-55 55 55 55c9.4 9.4 9.4 24.6 0 33.9s-24.6 9.4-33.9 0l-55-55-55 55c-9.4 9.4-24.6 9.4-33.9 0s-9.4-24.6 0-33.9l55-55-55-55c-9.4-9.4-9.4-24.6 0-33.9"/></svg>
<svg class="i" style="left:850.10px;top:581.80px;width:11.40px;height:11.40px;fill:#8e8e8e;" viewBox="0 0 512 512" preserveAspectRatio="xMidYMid meet"><path d="M256 512a256 256 0 1 0 0-512 256 256 0 1 0 0 512m-89-345c9.4-9.4 24.6-9.4 33.9 0l55 55 55-55c9.4-9.4 24.6-9.4 33.9 0s9.4 24.6 0 33.9l-55 55 55 55c9.4 9.4 9.4 24.6 0 33.9s-24.6 9.4-33.9 0l-55-55-55 55c-9.4 9.4-24.6 9.4-33.9 0s-9.4-24.6 0-33.9l55-55-55-55c-9.4-9.4-9.4-24.6 0-33.9"/></svg>
<svg class="i" style="left:1216.80px;top:581.80px;width:11.40px;height:11.40px;fill:#8e8e8e;" viewBox="0 0 512 512" preserveAspectRatio="xMidYMid meet"><path d="M256 512a256 256 0 1 0 0-512 256 256 0 1 0 0 512m-89-345c9.4-9.4 24.6-9.4 33.9 0l55 55 55-55c9.4-9.4 24.6-9.4 33.9 0s9.4 24.6 0 33.9l-55 55 55 55c9.4 9.4 9.4 24.6 0 33.9s-24.6 9.4-33.9 0l-55-55-55 55c-9.4 9.4-24.6 9.4-33.9 0s-9.4-24.6 0-33.9l55-55-55-55c-9.4-9.4-9.4-24.6 0-33.9"/></svg>
<svg class="i" style="left:1631.30px;top:581.80px;width:11.40px;height:11.40px;fill:#8e8e8e;" viewBox="0 0 512 512" preserveAspectRatio="xMidYMid meet"><path d="M256 512a256 256 0 1 0 0-512 256 256 0 1 0 0 512m-89-345c9.4-9.4 24.6-9.4 33.9 0l55 55 55-55c9.4-9.4 24.6-9.4 33.9 0s9.4 24.6 0 33.9l-55 55 55 55c9.4 9.4 9.4 24.6 0 33.9s-24.6 9.4-33.9 0l-55-55-55 55c-9.4 9.4-24.6 9.4-33.9 0s-9.4-24.6 0-33.9l55-55-55-55c-9.4-9.4-9.4-24.6 0-33.9"/></svg>
<svg class="i" style="left:0;top:0;width:1726px;height:715px" viewBox="0 0 1726 715"><defs>
<linearGradient id="g1" gradientUnits="userSpaceOnUse" x1="396.6" y1="0" x2="706.0" y2="0"><stop offset="0" stop-color="rgba(220,20,60,0.5)"/><stop offset="1" stop-color="rgba(255,215,0,0.5)"/></linearGradient>
<linearGradient id="g2" gradientUnits="userSpaceOnUse" x1="396.6" y1="0" x2="706.0" y2="0"><stop offset="0" stop-color="rgba(220,20,60,0.5)"/><stop offset="1" stop-color="rgba(50,205,50,0.5)"/></linearGradient>
<linearGradient id="g3" gradientUnits="userSpaceOnUse" x1="396.6" y1="0" x2="706.0" y2="0"><stop offset="0" stop-color="rgba(50,205,50,0.5)"/><stop offset="1" stop-color="rgba(50,205,50,0.5)"/></linearGradient>
</defs><path d="M396.6,185.00 C602.87,185.00 499.73,185.00 706.0,185.00 L706.0,255.40 C499.73,255.40 602.87,255.40 396.6,255.40 Z" fill="url(#g1)" stroke="url(#g1)" stroke-width="0.6"/><path d="M396.6,255.40 C602.87,255.40 499.73,263.40 706.0,263.40 L706.0,333.80 C499.73,333.80 602.87,325.80 396.6,325.80 Z" fill="url(#g1)" stroke="url(#g1)" stroke-width="0.6"/><path d="M396.6,325.80 C602.87,325.80 499.73,341.80 706.0,341.80 L706.0,377.00 C499.73,377.00 602.87,361.00 396.6,361.00 Z" fill="url(#g2)" stroke="url(#g2)" stroke-width="0.6"/><path d="M396.6,369.00 C602.87,369.00 499.73,385.00 706.0,385.00 L706.0,420.20 C499.73,420.20 602.87,404.20 396.6,404.20 Z" fill="url(#g3)" stroke="url(#g3)" stroke-width="0.6"/><rect x="388.6" y="185.00" width="8.00" height="176.00" fill="none" stroke="#36a2eb" stroke-width="0.8"/><rect x="388.6" y="185.00" width="8.00" height="176.00" fill="#dc143c"/><rect x="388.6" y="369.00" width="8.00" height="35.20" fill="none" stroke="#36a2eb" stroke-width="0.8"/><rect x="388.6" y="369.00" width="8.00" height="35.20" fill="#32cd32"/><rect x="706.0" y="185.00" width="8.00" height="70.40" fill="none" stroke="#36a2eb" stroke-width="0.8"/><rect x="706.0" y="185.00" width="8.00" height="70.40" fill="#ffd700"/><rect x="706.0" y="263.40" width="8.00" height="70.40" fill="none" stroke="#36a2eb" stroke-width="0.8"/><rect x="706.0" y="263.40" width="8.00" height="70.40" fill="#ffd700"/><rect x="706.0" y="341.80" width="8.00" height="35.20" fill="none" stroke="#36a2eb" stroke-width="0.8"/><rect x="706.0" y="341.80" width="8.00" height="35.20" fill="#32cd32"/><rect x="706.0" y="385.00" width="8.00" height="35.20" fill="none" stroke="#36a2eb" stroke-width="0.8"/><rect x="706.0" y="385.00" width="8.00" height="35.20" fill="#32cd32"/></svg>
<div class="t cl" style="left:400.20px;top:265.00px;line-height:16px;">zeek</div>
<div class="t cl" style="left:400.20px;top:378.00px;line-height:16px;">suricata</div>
<div class="t cl" style="right:1023.60px;top:212.00px;line-height:16px;">zeek.file</div>
<div class="t cl" style="right:1023.60px;top:290.00px;line-height:16px;">zeek.http</div>
<div class="t cl" style="right:1023.60px;top:351.00px;line-height:16px;">zeek.conn</div>
<div class="t cl" style="right:1023.60px;top:394.00px;line-height:16px;">suricata.alert</div>
<div class="t ct" style="left:347.30px;width:400px;text-align:center;top:163.00px;line-height:16px;">event.module, event.dataset</div>
<svg class="i" style="left:389.00px;top:141.40px;width:14.20px;height:13.00px;fill:#9e9e9e;" viewBox="0 32 448 448" preserveAspectRatio="xMidYMid meet"><path d="M384 96v64h-64V96zm0 128v64h-64v-64zm0 128v64h-64v-64zm-128-64h-64v-64h64zm-64 64h64v64h-64zm-64-64H64v-64h64zm-64 64h64v64H64zm0-192V96h64v64zm128 0V96h64v64zM64 32C28.7 32 0 60.7 0 96v320c0 35.3 28.7 64 64 64h320c35.3 0 64-28.7 64-64V96c0-35.3-28.7-64-64-64z"/></svg>
<svg class="i" style="left:410.00px;top:142.00px;width:14.20px;height:12.00px;fill:#9e9e9e;" viewBox="0 48 512 416" preserveAspectRatio="xMidYMid meet"><path d="M48 144a48 48 0 1 0 0-96 48 48 0 1 0 0 96m144-80c-17.7 0-32 14.3-32 32s14.3 32 32 32h288c17.7 0 32-14.3 32-32s-14.3-32-32-32zm0 160c-17.7 0-32 14.3-32 32s14.3 32 32 32h288c17.7 0 32-14.3 32-32s-14.3-32-32-32zm0 160c-17.7 0-32 14.3-32 32s14.3 32 32 32h288c17.7 0 32-14.3 32-32s-14.3-32-32-32zM48 464a48 48 0 1 0 0-96 48 48 0 1 0 0 96m48-208a48 48 0 1 0-96 0 48 48 0 1 0 96 0"/></svg>
<svg class="i" style="left:431.20px;top:141.60px;width:13.00px;height:12.60px;fill:#9e9e9e;" viewBox="0 32 448 448" preserveAspectRatio="xMidYMid meet"><path d="M32 32C14.3 32 0 46.3 0 64v96c0 17.7 14.3 32 32 32s32-14.3 32-32V96h64c17.7 0 32-14.3 32-32s-14.3-32-32-32zm32 320c0-17.7-14.3-32-32-32S0 334.3 0 352v96c0 17.7 14.3 32 32 32h96c17.7 0 32-14.3 32-32s-14.3-32-32-32H64zM320 32c-17.7 0-32 14.3-32 32s14.3 32 32 32h64v64c0 17.7 14.3 32 32 32s32-14.3 32-32V64c0-17.7-14.3-32-32-32zm128 320c0-17.7-14.3-32-32-32s-32 14.3-32 32v64h-64c-17.7 0-32 14.3-32 32s14.3 32 32 32h96c17.7 0 32-14.3 32-32z"/></svg>
<svg class="i" style="left:456.70px;top:140.90px;width:11.40px;height:11.40px;fill:#a8a8a8;" viewBox="0 0 512 512" preserveAspectRatio="xMidYMid meet"><path d="M256 512a256 256 0 1 0 0-512 256 256 0 1 0 0 512m-89-345c9.4-9.4 24.6-9.4 33.9 0l55 55 55-55c9.4-9.4 24.6-9.4 33.9 0s9.4 24.6 0 33.9l-55 55 55 55c9.4 9.4 9.4 24.6 0 33.9s-24.6 9.4-33.9 0l-55-55-55 55c-9.4 9.4-24.6 9.4-33.9 0s-9.4-24.6 0-33.9l55-55-55-55c-9.4-9.4-9.4-24.6 0-33.9"/></svg>
<div class="menu"></div>
<div class="hl"></div>
<svg class="i" style="left:1000.00px;top:194.80px;width:14.00px;height:14.00px;fill:#9e9e9e;" viewBox="0 0 511.97 512.08" preserveAspectRatio="xMidYMid meet"><path d="M416 208c0 45.9-14.9 88.3-40 122.7l126.6 126.7c12.5 12.5 12.5 32.8 0 45.3s-32.8 12.5-45.3 0L330.7 376c-34.4 25.1-76.8 40-122.7 40C93.1 416 0 322.9 0 208S93.1 0 208 0s208 93.1 208 208m-208-96c-13.3 0-24 10.7-24 24v48h-48c-13.3 0-24 10.7-24 24s10.7 24 24 24h48v48c0 13.3 10.7 24 24 24s24-10.7 24-24v-48h48c13.3 0 24-10.7 24-24s-10.7-24-24-24h-48v-48c0-13.3-10.7-24-24-24"/></svg>
<div class="t mi" style="left:1027.40px;top:191.80px;line-height:16px;">Include</div>
<svg class="i" style="left:1000.00px;top:226.80px;width:14.00px;height:14.00px;fill:#9e9e9e;" viewBox="0 0 511.97 512.08" preserveAspectRatio="xMidYMid meet"><path d="M416 208c0 45.9-14.9 88.3-40 122.7l126.6 126.7c12.5 12.5 12.5 32.8 0 45.3s-32.8 12.5-45.3 0L330.7 376c-34.4 25.1-76.8 40-122.7 40C93.1 416 0 322.9 0 208S93.1 0 208 0s208 93.1 208 208m-280-24c-13.3 0-24 10.7-24 24s10.7 24 24 24h144c13.3 0 24-10.7 24-24s-10.7-24-24-24z"/></svg>
<div class="t mi" style="left:1027.40px;top:223.80px;line-height:16px;">Exclude</div>
<svg class="i" style="left:1000.00px;top:258.80px;width:14.00px;height:14.00px;fill:#9e9e9e;" viewBox="0 0 511.97 512.08" preserveAspectRatio="xMidYMid meet"><path d="M416 208c0 45.9-14.9 88.3-40 122.7l126.6 126.7c12.5 12.5 12.5 32.8 0 45.3s-32.8 12.5-45.3 0L330.7 376c-34.4 25.1-76.8 40-122.7 40C93.1 416 0 322.9 0 208S93.1 0 208 0s208 93.1 208 208M208 352a144 144 0 1 0 0-288 144 144 0 1 0 0 288"/></svg>
<div class="t mi" style="left:1027.40px;top:255.80px;line-height:16px;">Only</div>
<svg class="i" style="left:1000.60px;top:290.80px;width:14.60px;height:14.00px;fill:#9e9e9e;" viewBox="0 0.02 512 511.95" preserveAspectRatio="xMidYMid meet"><path d="M232.5 5.2c14.9-6.9 32.1-6.9 47 0l218.6 101c8.5 3.9 13.9 12.4 13.9 21.8s-5.4 17.9-13.9 21.8l-218.6 101c-14.9 6.9-32.1 6.9-47 0l-218.6-101C5.4 145.8 0 137.3 0 128s5.4-17.9 13.9-21.8zM48.1 218.4l164.3 75.9c27.7 12.8 59.6 12.8 87.3 0L464 218.4l34.1 15.8c8.5 3.9 13.9 12.4 13.9 21.8s-5.4 17.9-13.9 21.8l-218.6 101c-14.9 6.9-32.1 6.9-47 0l-218.6-101C5.4 273.8 0 265.3 0 256s5.4-17.9 13.9-21.8L48 218.4zM13.9 362.2 48 346.4l164.3 75.9c27.7 12.8 59.6 12.8 87.3 0l164.3-75.9 34.1 15.8c8.5 3.9 13.9 12.4 13.9 21.8s-5.4 17.9-13.9 21.8l-218.6 101c-14.9 6.9-32.1 6.9-47 0l-218.5-101C5.4 401.8 0 393.3 0 384s5.4-17.9 13.9-21.8"/></svg>
<div class="t mi" style="left:1027.40px;top:287.80px;line-height:16px;">Group By</div>
<svg class="i" style="left:1000.60px;top:322.80px;width:14.60px;height:14.00px;fill:#9e9e9e;" viewBox="0 0.02 512 511.95" preserveAspectRatio="xMidYMid meet"><path d="M232.5 5.2c14.9-6.9 32.1-6.9 47 0l218.6 101c8.5 3.9 13.9 12.4 13.9 21.8s-5.4 17.9-13.9 21.8l-218.6 101c-14.9 6.9-32.1 6.9-47 0l-218.6-101C5.4 145.8 0 137.3 0 128s5.4-17.9 13.9-21.8zM48.1 218.4l164.3 75.9c27.7 12.8 59.6 12.8 87.3 0L464 218.4l34.1 15.8c8.5 3.9 13.9 12.4 13.9 21.8s-5.4 17.9-13.9 21.8l-218.6 101c-14.9 6.9-32.1 6.9-47 0l-218.6-101C5.4 273.8 0 265.3 0 256s5.4-17.9 13.9-21.8L48 218.4zM13.9 362.2 48 346.4l164.3 75.9c27.7 12.8 59.6 12.8 87.3 0l164.3-75.9 34.1 15.8c8.5 3.9 13.9 12.4 13.9 21.8s-5.4 17.9-13.9 21.8l-218.6 101c-14.9 6.9-32.1 6.9-47 0l-218.5-101C5.4 401.8 0 393.3 0 384s5.4-17.9 13.9-21.8"/></svg>
<div class="t mi" style="left:1027.40px;top:319.80px;line-height:16px;">New Group By</div>
<svg class="i" style="left:1001.00px;top:357.80px;width:11.20px;height:14.60px;fill:#9e9e9e;" viewBox="0 0 384 512" preserveAspectRatio="xMidYMid meet"><path d="M320 32h-8.6c-11-19.1-31.7-32-55.4-32H128c-23.7 0-44.4 12.9-55.4 32H64C28.7 32 0 60.7 0 96v352c0 35.3 28.7 64 64 64h256c35.3 0 64-28.7 64-64V96c0-35.3-28.7-64-64-64m-184 80c-13.3 0-24-10.7-24-24s10.7-24 24-24h112c13.3 0 24 10.7 24 24s-10.7 24-24 24z"/></svg>
<div style="position:absolute;left:1005px;top:359.6px;width:3.2px;height:1.6px;border-radius:1px;background:#212121"></div>
<div class="t mi" style="left:1027.40px;top:355.60px;line-height:16px;">Clipboard</div>
<svg class="i" style="left:1114.60px;top:362.60px;width:9.80px;height:5.90px;fill:#9e9e9e;" viewBox="0.45 192 320.03 191.95" preserveAspectRatio="xMidYMid meet"><path d="M140.3 376.8c12.6 10.2 31.1 9.5 42.8-2.2l128-128c9.2-9.2 11.9-22.9 6.9-34.9S301.4 192 288.5 192h-256c-12.9 0-24.6 7.8-29.6 19.8s-2.2 25.7 7 34.8l128 128z"/></svg>
<svg class="i" style="left:1000.00px;top:396.20px;width:14.00px;height:14.00px;fill:#9e9e9e;" viewBox="0 0 512 512" preserveAspectRatio="xMidYMid meet"><path d="M290.4 19.8C295.4 7.8 307.1 0 320 0h160c17.7 0 32 14.3 32 32v160c0 12.9-7.8 24.6-19.8 29.6s-25.7 2.2-34.9-6.9L400 157.3 246.6 310.6c-12.5 12.5-32.8 12.5-45.3 0s-12.5-32.8 0-45.3L354.7 112l-57.3-57.4c-9.2-9.2-11.9-22.9-6.9-34.9zM0 176c0-44.2 35.8-80 80-80h80c17.7 0 32 14.3 32 32s-14.3 32-32 32H80c-8.8 0-16 7.2-16 16v256c0 8.8 7.2 16 16 16h256c8.8 0 16-7.2 16-16v-80c0-17.7 14.3-32 32-32s32 14.3 32 32v80c0 44.2-35.8 80-80 80H80c-44.2 0-80-35.8-80-80z"/></svg>
<div class="t mi" style="left:1027.40px;top:394.20px;line-height:16px;">Actions</div>
<svg class="i" style="left:1114.60px;top:398.60px;width:9.80px;height:5.90px;fill:#9e9e9e;" viewBox="0.45 128.01 320.03 191.99" preserveAspectRatio="xMidYMid meet"><path d="M140.3 135.2c12.6-10.3 31.1-9.5 42.8 2.2l128 128c9.2 9.2 11.9 22.9 6.9 34.9S301.4 320 288.5 320h-256c-12.9 0-24.6-7.8-29.6-19.8s-2.2-25.7 7-34.8l128-128z"/></svg>
<svg class="i" style="left:1012.40px;top:432.10px;width:14.60px;height:14.00px;fill:#fff;" viewBox="16 -16 544 544" preserveAspectRatio="xMidYMid meet"><path d="M288-16c17.7 0 32 14.3 32 32v18.3c98.1 14 175.7 91.6 189.7 189.7H528c17.7 0 32 14.3 32 32s-14.3 32-32 32h-18.3c-14 98.1-91.6 175.7-189.7 189.7V496c0 17.7-14.3 32-32 32s-32-14.3-32-32v-18.3c-98.1-14-175.7-91.6-189.7-189.7H48c-17.7 0-32-14.3-32-32s14.3-32 32-32h18.3c14-98.1 91.6-175.7 189.7-189.7V16c0-17.7 14.3-32 32-32M131.2 288c12.7 62.7 62.1 112.1 124.8 124.8V400c0-17.7 14.3-32 32-32s32 14.3 32 32v12.8c62.7-12.7 112.1-62.1 124.8-124.8H432c-17.7 0-32-14.3-32-32s14.3-32 32-32h12.8C432.1 161.3 382.7 111.9 320 99.2V112c0 17.7-14.3 32-32 32s-32-14.3-32-32V99.2c-62.7 12.7-112.1 62.1-124.8 124.8H144c17.7 0 32 14.3 32 32s-14.3 32-32 32zM288 208a48 48 0 1 1 0 96 48 48 0 1 1 0-96"/></svg>
<div class="t mi" style="left:1040.00px;top:429.00px;line-height:16px;">Hunt</div>
<svg class="i" style="left:1012.40px;top:464.10px;width:14.60px;height:14.00px;fill:#fff;" viewBox="0 0 512 480" preserveAspectRatio="xMidYMid meet"><path d="M200 48h112c4.4 0 8 3.6 8 8v40H192V56c0-4.4 3.6-8 8-8m-56 8v40H64c-35.3 0-64 28.7-64 64v96h512v-96c0-35.3-28.7-64-64-64h-80V56c0-30.9-25.1-56-56-56H200c-30.9 0-56 25.1-56 56m368 248H320v16c0 17.7-14.3 32-32 32h-64c-17.7 0-32-14.3-32-32v-16H0v112c0 35.3 28.7 64 64 64h384c35.3 0 64-28.7 64-64z"/></svg>
<div class="t mi" style="left:1040.00px;top:461.00px;line-height:16px;">Add to Case</div>
<svg class="i" style="left:1012.40px;top:496.10px;width:14.60px;height:14.00px;fill:#fff;" viewBox="0 29.62 512 450.38" preserveAspectRatio="xMidYMid meet"><path d="M64 432V256c-35.3 0-64-28.7-64-64 0-216.5 512-216.5 512 0 0 35.3-28.7 64-64 64v176c0 26.5-21.5 48-48 48H112c-26.5 0-48-21.5-48-48"/></svg>
<div class="t mi" style="left:1040.00px;top:493.00px;line-height:16px;">CyberChef</div>
<svg class="i" style="left:1012.40px;top:528.10px;width:14.60px;height:14.00px;fill:#fff;" viewBox="12 8 488 496" preserveAspectRatio="xMidYMid meet"><path d="M500 261.8C500 403.3 403.1 504 260 504 122.8 504 12 393.2 12 256S122.8 8 260 8c66.8 0 123 24.5 166.3 64.9l-67.5 64.9C270.5 52.6 106.3 116.6 106.3 256c0 86.5 69.1 156.6 153.7 156.6 98.2 0 135-70.4 140.8-106.9H260v-85.3h236.1c2.3 12.7 3.9 24.9 3.9 41.4"/></svg>
<div class="t mi" style="left:1040.00px;top:525.00px;line-height:16px;">Google</div>
<svg class="i" style="left:1012.40px;top:560.10px;width:14.60px;height:14.00px;fill:#fff;" viewBox="0 0 512 512" preserveAspectRatio="xMidYMid meet"><path d="M290.4 19.8C295.4 7.8 307.1 0 320 0h160c17.7 0 32 14.3 32 32v160c0 12.9-7.8 24.6-19.8 29.6s-25.7 2.2-34.9-6.9L400 157.3 246.6 310.6c-12.5 12.5-32.8 12.5-45.3 0s-12.5-32.8 0-45.3L354.7 112l-57.3-57.4c-9.2-9.2-11.9-22.9-6.9-34.9zM0 176c0-44.2 35.8-80 80-80h80c17.7 0 32 14.3 32 32s-14.3 32-32 32H80c-8.8 0-16 7.2-16 16v256c0 8.8 7.2 16 16 16h256c8.8 0 16-7.2 16-16v-80c0-17.7 14.3-32 32-32s32 14.3 32 32v80c0 44.2-35.8 80-80 80H80c-44.2 0-80-35.8-80-80z"/></svg>
<div class="t mi" style="left:1040.00px;top:557.00px;line-height:16px;">VirusTotal</div>
<svg class="i" style="left:1013.90px;top:593.70px;width:11.80px;height:11.40px;fill:#fff;" viewBox="0 32 448 448" preserveAspectRatio="xMidYMid meet"><path d="M256 64c0-17.7-14.3-32-32-32s-32 14.3-32 32v160H32c-17.7 0-32 14.3-32 32s14.3 32 32 32h160v160c0 17.7 14.3 32 32 32s32-14.3 32-32V288h160c17.7 0 32-14.3 32-32s-14.3-32-32-32H256z"/></svg>
<div class="t mi" style="left:1040.00px;top:589.00px;line-height:16px;">Add New Action</div>
<div class="bk" style="left:0;top:713px;width:1726px;height:2px"></div><div class="bk" style="left:1724px;top:0;width:2px;height:715px"></div>
<div class="px" style="right:0;bottom:0"></div><div class="px" style="left:0;bottom:0"></div><div class="px" style="right:0;top:0"></div>
</body></html>
